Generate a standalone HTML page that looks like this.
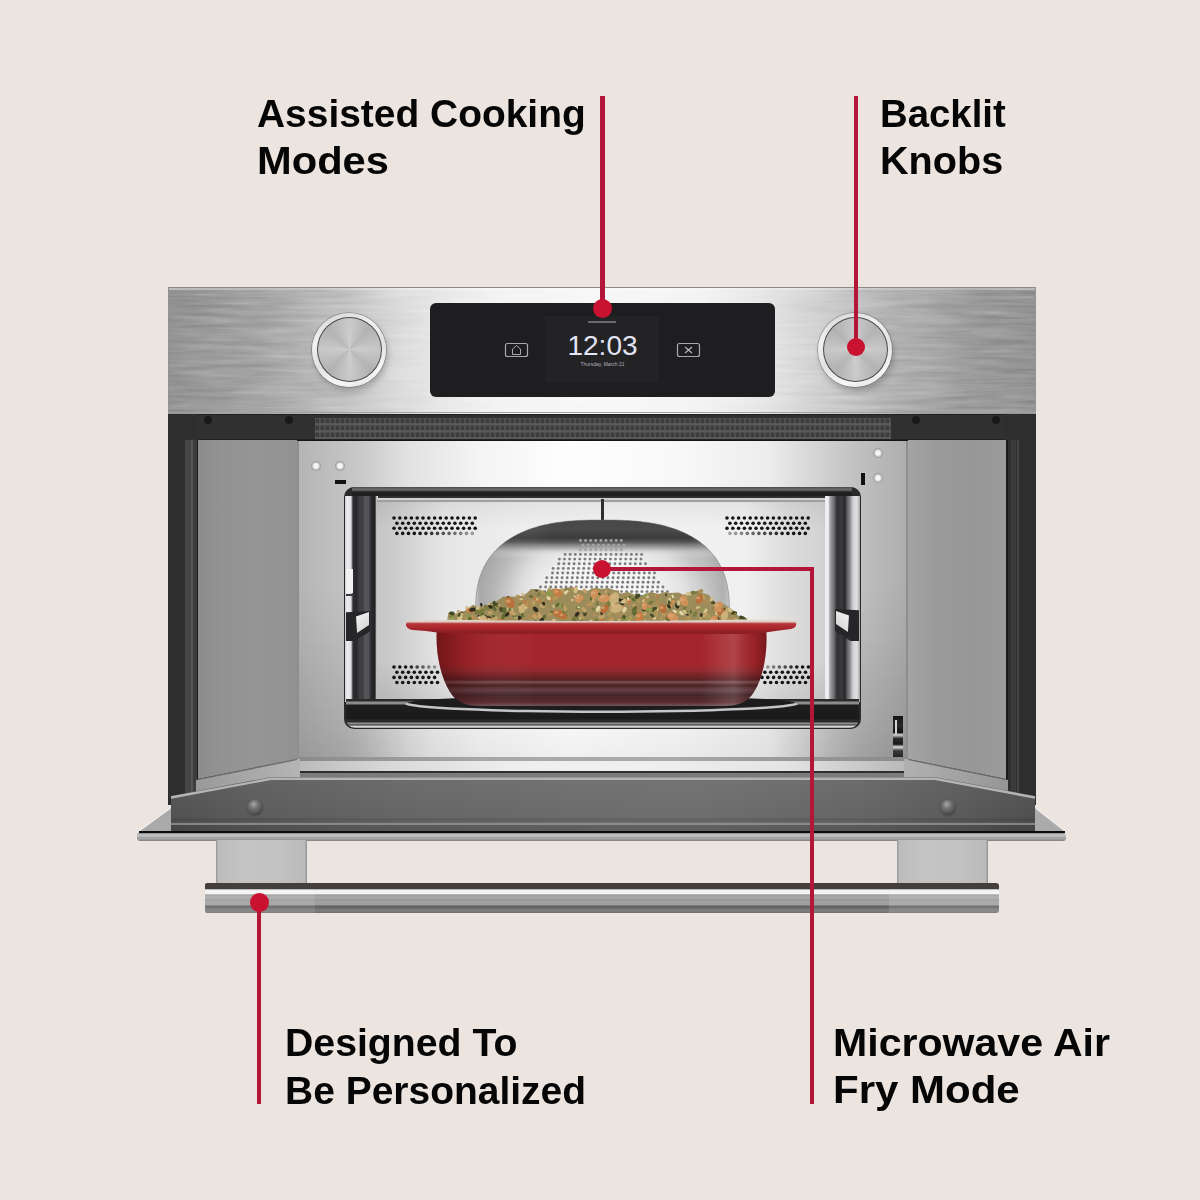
<!DOCTYPE html>
<html><head><meta charset="utf-8">
<style>
*{margin:0;padding:0;box-sizing:border-box}
html,body{width:1200px;height:1200px;overflow:hidden;background:#ece4df}
body{position:relative;font-family:"Liberation Sans",sans-serif}
.a{position:absolute}
.ln{position:absolute;font-weight:bold;color:#060606;font-size:38.5px;line-height:38.5px;white-space:nowrap;transform-origin:0 0}
.rl{position:absolute;background:#b4163a}
.rd{position:absolute;background:#c8122f;border-radius:50%}
</style></head><body>

<!-- ===== OVEN ===== -->
<div class="a" style="left:168px;top:413px;width:868px;height:392px;background:#2e2e2e"></div>
<div class="a" style="left:185px;top:440px;width:6px;height:360px;background:#464646"></div>
<div class="a" style="left:191px;top:440px;width:1.5px;height:360px;background:#555"></div>
<div class="a" style="left:192.5px;top:440px;width:4px;height:360px;background:#3c3c3c"></div>
<div class="a" style="left:1008px;top:440px;width:3px;height:360px;background:#303030"></div>
<div class="a" style="left:1011px;top:440px;width:5px;height:360px;background:#3c3c3c"></div>
<div class="a" style="left:1017px;top:440px;width:2px;height:360px;background:#444"></div>
<div class="a" style="left:196.5px;top:440px;width:2px;height:350px;background:#1c1c1c"></div>
<div class="a" style="left:1006px;top:440px;width:2px;height:350px;background:#1a1a1a"></div>
<div class="a" style="left:198px;top:413px;width:808px;height:28px;background:#303030"></div>
<svg class="a" style="left:0;top:0" width="1200" height="450">
<defs><pattern id="vs" x="315" y="418" width="5" height="7" patternUnits="userSpaceOnUse"><rect width="5" height="7" fill="#5a5a5a"/><rect x="0.5" y="0.5" width="3.8" height="4.6" fill="#3c3c3c"/></pattern></defs>
<rect x="315" y="418" width="576" height="21" fill="url(#vs)"/>
<rect x="198" y="413" width="808" height="1.5" fill="#111"/>
<rect x="198" y="439.5" width="808" height="1.5" fill="#151517"/>
</svg>
<div class="a" style="left:204px;top:416px;width:8px;height:8px;border-radius:50%;background:#18181a"></div>
<div class="a" style="left:285px;top:416px;width:8px;height:8px;border-radius:50%;background:#18181a"></div>
<div class="a" style="left:912px;top:416px;width:8px;height:8px;border-radius:50%;background:#18181a"></div>
<div class="a" style="left:992px;top:416px;width:8px;height:8px;border-radius:50%;background:#18181a"></div>
<div class="a" style="left:198px;top:440px;width:99px;height:350px;background:linear-gradient(90deg,#8c8c8c 0,#929292 25%,#959595 60%,#929292 100%);clip-path:polygon(0 0,100% 0,100% 319px,0 339px)"></div>
<div class="a" style="left:908px;top:440px;width:98px;height:350px;background:linear-gradient(90deg,#a4a4a4 0,#9a9a9a 30%,#979797 70%,#9c9c9c 100%);clip-path:polygon(0 0,100% 0,100% 339px,0 319px)"></div>
<div class="a" style="left:297px;top:441px;width:611px;height:320px;background:linear-gradient(90deg,#b4b4b4 0,#c8c8c8 10.3%,#e2e2e2 18.2%,#f4f4f4 30%,#fefefe 44.4%,#f8f8f8 62.7%,#ededed 77%,#c8c8c8 88.9%,#b8b8b8 95.4%,#adadad 100%)"></div>
<div class="a" style="left:297px;top:441px;width:611px;height:320px;background:linear-gradient(180deg,rgba(0,0,0,0) 0,rgba(0,0,0,0) 60%,rgba(0,0,0,.03) 90%,rgba(0,0,0,.06) 100%)"></div>
<div class="a" style="left:297px;top:441px;width:611px;height:320px;background:linear-gradient(180deg,rgba(0,0,0,0) 45%,rgba(0,0,0,.11) 100%);-webkit-mask-image:linear-gradient(90deg,#000 0,#000 8%,transparent 22%,transparent 78%,#000 92%,#000 100%)"></div>
<div class="a" style="left:297px;top:441px;width:2px;height:320px;background:#8e8e90"></div>
<div class="a" style="left:906px;top:441px;width:2px;height:320px;background:#8e8e90"></div>
<div class="a" style="left:311px;top:461px;width:10px;height:10px;border-radius:50%;background:radial-gradient(circle,#f6f6f6 0 30%,#d0d0d2 45%,#8a8a8c 75%,#9a9a9c)"></div>
<div class="a" style="left:335px;top:461px;width:10px;height:10px;border-radius:50%;background:radial-gradient(circle,#f6f6f6 0 30%,#d0d0d2 45%,#8a8a8c 75%,#9a9a9c)"></div>
<div class="a" style="left:873px;top:448px;width:10px;height:10px;border-radius:50%;background:radial-gradient(circle,#f6f6f6 0 30%,#d0d0d2 45%,#8a8a8c 75%,#9a9a9c)"></div>
<div class="a" style="left:873px;top:473px;width:10px;height:10px;border-radius:50%;background:radial-gradient(circle,#f6f6f6 0 30%,#d0d0d2 45%,#8a8a8c 75%,#9a9a9c)"></div>
<div class="a" style="left:335px;top:480px;width:11px;height:4px;background:#111"></div>
<div class="a" style="left:861px;top:473px;width:4px;height:12px;background:#111"></div>
<div class="a" style="left:893px;top:716px;width:10px;height:47px;background:linear-gradient(180deg,#141414 0,#2a2a2a 20%,#101010 35%,#d8d8d8 40%,#2a2a2a 48%,#1a1a1a 60%,#e0e0e0 66%,#3a3a3a 74%,#111 100%)"></div>
<div class="a" style="left:895px;top:720px;width:2px;height:14px;background:#d8d0d0"></div>
<div class="a" style="left:344px;top:487px;width:517px;height:242px;border-radius:10px;background:#2a2a2c"></div>
<div class="a" style="left:352px;top:487px;width:500px;height:11px;background:linear-gradient(180deg,#4a4a4a 0,#6a6a6a 2.5px,#4a4a4a 4px,#202020 5px,#202020 9px,#3a3a3a 10px,#2a2a2a 11px)"></div>
<div class="a" style="left:345px;top:496px;width:33px;height:206px;background:linear-gradient(90deg,#c8c8ca 0,#eeeef0 2px,#e0e0e2 6px,#2c2c2e 8px,#2a2a2c 12px,#3e3e40 14px,#404042 18px,#56565a 20px,#50505a 24px,#2a2a2c 26px,#222224 30px,#eeeef0 32px,#d6d6d8 33px)"></div>
<div class="a" style="left:825px;top:496px;width:35px;height:206px;background:linear-gradient(90deg,#e8e8ea 0,#f6f6f8 3px,#a4a4a6 5px,#6c6c6e 9px,#303032 12px,#3a3a3c 17px,#262628 20px,#5c5c5e 22px,#8c8c8e 25px,#d2d2d4 28px,#e0e0e2 32px,#a2a2a4 35px)"></div>
<div class="a" style="left:346px;top:611px;width:24px;height:30px;background:#262628;clip-path:polygon(0 4%,100% 0,100% 68%,35% 100%,0 100%)"></div>
<div class="a" style="left:356px;top:612px;width:13px;height:21px;background:linear-gradient(135deg,#f6f6f6,#cfcfcf);clip-path:polygon(0 22%,100% 0,100% 62%,8% 100%)"></div>
<div class="a" style="left:346px;top:569px;width:7px;height:24px;background:#f2f2f2"></div>
<div class="a" style="left:346px;top:594px;width:8px;height:2px;background:#3a3a3c"></div>
<div class="a" style="left:835px;top:609px;width:24px;height:32px;background:#262628;clip-path:polygon(0 0,100% 4%,100% 100%,65% 100%,0 68%)"></div>
<div class="a" style="left:836px;top:611px;width:13px;height:21px;background:linear-gradient(225deg,#f6f6f6,#cfcfcf);clip-path:polygon(0 0,100% 22%,92% 100%,0 62%)"></div>
<div class="a" style="left:377px;top:499px;width:448px;height:201px;background:linear-gradient(90deg,#c6c6c6 0,#cacaca 3%,#e6e6e6 15%,#eeeeee 30%,#f2f2f2 50%,#f0f0f0 82%,#dcdcdc 92%,#d2d2d2 100%)"></div>
<div class="a" style="left:377px;top:499px;width:448px;height:201px;background:linear-gradient(180deg,rgba(0,0,0,.18) 0,rgba(0,0,0,.05) 2%,rgba(0,0,0,0) 15%,rgba(0,0,0,0) 80%,rgba(0,0,0,.08) 100%)"></div>
<div class="a" style="left:377px;top:498px;width:448px;height:2px;background:#d0d0d0"></div>
<div class="a" style="left:377px;top:500px;width:448px;height:2px;background:#a0a0a0"></div>
<svg class="a" style="left:0;top:0" width="1200" height="1200"><circle cx="394.0" cy="518" r="1.8" fill="#141414"/><circle cx="399.8" cy="518" r="1.8" fill="#141414"/><circle cx="405.6" cy="518" r="1.8" fill="#141414"/><circle cx="411.4" cy="518" r="1.8" fill="#141414"/><circle cx="417.2" cy="518" r="1.8" fill="#141414"/><circle cx="423.0" cy="518" r="1.8" fill="#141414"/><circle cx="428.8" cy="518" r="1.8" fill="#141414"/><circle cx="434.6" cy="518" r="1.8" fill="#141414"/><circle cx="440.4" cy="518" r="1.8" fill="#141414"/><circle cx="446.2" cy="518" r="1.8" fill="#141414"/><circle cx="452.0" cy="518" r="1.8" fill="#141414"/><circle cx="457.8" cy="518" r="1.8" fill="#141414"/><circle cx="463.6" cy="518" r="1.8" fill="#141414"/><circle cx="469.4" cy="518" r="1.8" fill="#141414"/><circle cx="475.2" cy="518" r="1.8" fill="#141414"/><circle cx="396.9" cy="523.2" r="1.8" fill="#141414"/><circle cx="402.7" cy="523.2" r="1.8" fill="#141414"/><circle cx="408.5" cy="523.2" r="1.8" fill="#141414"/><circle cx="414.3" cy="523.2" r="1.8" fill="#141414"/><circle cx="420.1" cy="523.2" r="1.8" fill="#141414"/><circle cx="425.9" cy="523.2" r="1.8" fill="#141414"/><circle cx="431.7" cy="523.2" r="1.8" fill="#141414"/><circle cx="437.5" cy="523.2" r="1.8" fill="#141414"/><circle cx="443.3" cy="523.2" r="1.8" fill="#141414"/><circle cx="449.1" cy="523.2" r="1.8" fill="#141414"/><circle cx="454.9" cy="523.2" r="1.8" fill="#141414"/><circle cx="460.7" cy="523.2" r="1.8" fill="#141414"/><circle cx="466.5" cy="523.2" r="1.8" fill="#141414"/><circle cx="472.3" cy="523.2" r="1.8" fill="#141414"/><circle cx="394.0" cy="528.3" r="1.8" fill="#141414"/><circle cx="399.8" cy="528.3" r="1.8" fill="#141414"/><circle cx="405.6" cy="528.3" r="1.8" fill="#141414"/><circle cx="411.4" cy="528.3" r="1.8" fill="#141414"/><circle cx="417.2" cy="528.3" r="1.8" fill="#141414"/><circle cx="423.0" cy="528.3" r="1.8" fill="#141414"/><circle cx="428.8" cy="528.3" r="1.8" fill="#141414"/><circle cx="434.6" cy="528.3" r="1.8" fill="#141414"/><circle cx="440.4" cy="528.3" r="1.8" fill="#141414"/><circle cx="446.2" cy="528.3" r="1.8" fill="#141414"/><circle cx="452.0" cy="528.3" r="1.8" fill="#141414"/><circle cx="457.8" cy="528.3" r="1.8" fill="#141414"/><circle cx="463.6" cy="528.3" r="1.8" fill="#141414"/><circle cx="469.4" cy="528.3" r="1.8" fill="#141414"/><circle cx="475.2" cy="528.3" r="1.8" fill="#141414"/><circle cx="396.9" cy="533.4" r="1.8" fill="#141414"/><circle cx="402.7" cy="533.4" r="1.8" fill="#141414"/><circle cx="408.5" cy="533.4" r="1.8" fill="#141414"/><circle cx="414.3" cy="533.4" r="1.8" fill="#141414"/><circle cx="420.1" cy="533.4" r="1.8" fill="#161616"/><circle cx="425.9" cy="533.4" r="1.8" fill="#252525"/><circle cx="431.7" cy="533.4" r="1.8" fill="#333333"/><circle cx="437.5" cy="533.4" r="1.8" fill="#424242"/><circle cx="443.3" cy="533.4" r="1.8" fill="#515151"/><circle cx="449.1" cy="533.4" r="1.8" fill="#606060"/><circle cx="454.9" cy="533.4" r="1.8" fill="#6f6f6f"/><circle cx="460.7" cy="533.4" r="1.8" fill="#7d7d7d"/><circle cx="466.5" cy="533.4" r="1.8" fill="#8c8c8c"/><circle cx="472.3" cy="533.4" r="1.8" fill="#9b9b9b"/><circle cx="727.0" cy="518" r="1.8" fill="#141414"/><circle cx="732.8" cy="518" r="1.8" fill="#141414"/><circle cx="738.6" cy="518" r="1.8" fill="#141414"/><circle cx="744.4" cy="518" r="1.8" fill="#141414"/><circle cx="750.2" cy="518" r="1.8" fill="#141414"/><circle cx="756.0" cy="518" r="1.8" fill="#141414"/><circle cx="761.8" cy="518" r="1.8" fill="#141414"/><circle cx="767.6" cy="518" r="1.8" fill="#141414"/><circle cx="773.4" cy="518" r="1.8" fill="#141414"/><circle cx="779.2" cy="518" r="1.8" fill="#141414"/><circle cx="785.0" cy="518" r="1.8" fill="#141414"/><circle cx="790.8" cy="518" r="1.8" fill="#141414"/><circle cx="796.6" cy="518" r="1.8" fill="#141414"/><circle cx="802.4" cy="518" r="1.8" fill="#141414"/><circle cx="808.2" cy="518" r="1.8" fill="#141414"/><circle cx="729.9" cy="523.2" r="1.8" fill="#141414"/><circle cx="735.7" cy="523.2" r="1.8" fill="#141414"/><circle cx="741.5" cy="523.2" r="1.8" fill="#141414"/><circle cx="747.3" cy="523.2" r="1.8" fill="#141414"/><circle cx="753.1" cy="523.2" r="1.8" fill="#141414"/><circle cx="758.9" cy="523.2" r="1.8" fill="#141414"/><circle cx="764.7" cy="523.2" r="1.8" fill="#141414"/><circle cx="770.5" cy="523.2" r="1.8" fill="#141414"/><circle cx="776.3" cy="523.2" r="1.8" fill="#141414"/><circle cx="782.1" cy="523.2" r="1.8" fill="#141414"/><circle cx="787.9" cy="523.2" r="1.8" fill="#141414"/><circle cx="793.7" cy="523.2" r="1.8" fill="#141414"/><circle cx="799.5" cy="523.2" r="1.8" fill="#141414"/><circle cx="805.3" cy="523.2" r="1.8" fill="#141414"/><circle cx="727.0" cy="528.3" r="1.8" fill="#141414"/><circle cx="732.8" cy="528.3" r="1.8" fill="#141414"/><circle cx="738.6" cy="528.3" r="1.8" fill="#141414"/><circle cx="744.4" cy="528.3" r="1.8" fill="#141414"/><circle cx="750.2" cy="528.3" r="1.8" fill="#141414"/><circle cx="756.0" cy="528.3" r="1.8" fill="#141414"/><circle cx="761.8" cy="528.3" r="1.8" fill="#141414"/><circle cx="767.6" cy="528.3" r="1.8" fill="#141414"/><circle cx="773.4" cy="528.3" r="1.8" fill="#141414"/><circle cx="779.2" cy="528.3" r="1.8" fill="#141414"/><circle cx="785.0" cy="528.3" r="1.8" fill="#141414"/><circle cx="790.8" cy="528.3" r="1.8" fill="#141414"/><circle cx="796.6" cy="528.3" r="1.8" fill="#141414"/><circle cx="802.4" cy="528.3" r="1.8" fill="#141414"/><circle cx="808.2" cy="528.3" r="1.8" fill="#141414"/><circle cx="729.9" cy="533.4" r="1.8" fill="#a2a2a2"/><circle cx="735.7" cy="533.4" r="1.8" fill="#939393"/><circle cx="741.5" cy="533.4" r="1.8" fill="#858585"/><circle cx="747.3" cy="533.4" r="1.8" fill="#767676"/><circle cx="753.1" cy="533.4" r="1.8" fill="#676767"/><circle cx="758.9" cy="533.4" r="1.8" fill="#585858"/><circle cx="764.7" cy="533.4" r="1.8" fill="#494949"/><circle cx="770.5" cy="533.4" r="1.8" fill="#3b3b3b"/><circle cx="776.3" cy="533.4" r="1.8" fill="#2c2c2c"/><circle cx="782.1" cy="533.4" r="1.8" fill="#1d1d1d"/><circle cx="787.9" cy="533.4" r="1.8" fill="#141414"/><circle cx="793.7" cy="533.4" r="1.8" fill="#141414"/><circle cx="799.5" cy="533.4" r="1.8" fill="#141414"/><circle cx="805.3" cy="533.4" r="1.8" fill="#141414"/><circle cx="394.0" cy="667" r="1.8" fill="#141414"/><circle cx="399.8" cy="667" r="1.8" fill="#141414"/><circle cx="405.6" cy="667" r="1.8" fill="#141414"/><circle cx="411.4" cy="667" r="1.8" fill="#242424"/><circle cx="417.2" cy="667" r="1.8" fill="#3f3f3f"/><circle cx="423.0" cy="667" r="1.8" fill="#5a5a5a"/><circle cx="428.8" cy="667" r="1.8" fill="#757575"/><circle cx="434.6" cy="667" r="1.8" fill="#909090"/><circle cx="396.9" cy="672.2" r="1.8" fill="#141414"/><circle cx="402.7" cy="672.2" r="1.8" fill="#141414"/><circle cx="408.5" cy="672.2" r="1.8" fill="#141414"/><circle cx="414.3" cy="672.2" r="1.8" fill="#141414"/><circle cx="420.1" cy="672.2" r="1.8" fill="#141414"/><circle cx="425.9" cy="672.2" r="1.8" fill="#141414"/><circle cx="431.7" cy="672.2" r="1.8" fill="#141414"/><circle cx="437.5" cy="672.2" r="1.8" fill="#141414"/><circle cx="394.0" cy="677.4" r="1.8" fill="#141414"/><circle cx="399.8" cy="677.4" r="1.8" fill="#141414"/><circle cx="405.6" cy="677.4" r="1.8" fill="#141414"/><circle cx="411.4" cy="677.4" r="1.8" fill="#141414"/><circle cx="417.2" cy="677.4" r="1.8" fill="#141414"/><circle cx="423.0" cy="677.4" r="1.8" fill="#141414"/><circle cx="428.8" cy="677.4" r="1.8" fill="#141414"/><circle cx="434.6" cy="677.4" r="1.8" fill="#141414"/><circle cx="396.9" cy="682.5" r="1.8" fill="#141414"/><circle cx="402.7" cy="682.5" r="1.8" fill="#141414"/><circle cx="408.5" cy="682.5" r="1.8" fill="#141414"/><circle cx="414.3" cy="682.5" r="1.8" fill="#141414"/><circle cx="420.1" cy="682.5" r="1.8" fill="#141414"/><circle cx="425.9" cy="682.5" r="1.8" fill="#141414"/><circle cx="431.7" cy="682.5" r="1.8" fill="#141414"/><circle cx="437.5" cy="682.5" r="1.8" fill="#141414"/><circle cx="762.0" cy="667" r="1.8" fill="#aaaaaa"/><circle cx="767.8" cy="667" r="1.8" fill="#909090"/><circle cx="773.6" cy="667" r="1.8" fill="#777777"/><circle cx="779.4" cy="667" r="1.8" fill="#5d5d5d"/><circle cx="785.2" cy="667" r="1.8" fill="#444444"/><circle cx="791.0" cy="667" r="1.8" fill="#2b2b2b"/><circle cx="796.8" cy="667" r="1.8" fill="#141414"/><circle cx="802.6" cy="667" r="1.8" fill="#141414"/><circle cx="808.4" cy="667" r="1.8" fill="#141414"/><circle cx="764.9" cy="672.2" r="1.8" fill="#141414"/><circle cx="770.7" cy="672.2" r="1.8" fill="#141414"/><circle cx="776.5" cy="672.2" r="1.8" fill="#141414"/><circle cx="782.3" cy="672.2" r="1.8" fill="#141414"/><circle cx="788.1" cy="672.2" r="1.8" fill="#141414"/><circle cx="793.9" cy="672.2" r="1.8" fill="#141414"/><circle cx="799.7" cy="672.2" r="1.8" fill="#141414"/><circle cx="805.5" cy="672.2" r="1.8" fill="#141414"/><circle cx="762.0" cy="677.4" r="1.8" fill="#141414"/><circle cx="767.8" cy="677.4" r="1.8" fill="#141414"/><circle cx="773.6" cy="677.4" r="1.8" fill="#141414"/><circle cx="779.4" cy="677.4" r="1.8" fill="#141414"/><circle cx="785.2" cy="677.4" r="1.8" fill="#141414"/><circle cx="791.0" cy="677.4" r="1.8" fill="#141414"/><circle cx="796.8" cy="677.4" r="1.8" fill="#141414"/><circle cx="802.6" cy="677.4" r="1.8" fill="#141414"/><circle cx="808.4" cy="677.4" r="1.8" fill="#141414"/><circle cx="764.9" cy="682.5" r="1.8" fill="#141414"/><circle cx="770.7" cy="682.5" r="1.8" fill="#141414"/><circle cx="776.5" cy="682.5" r="1.8" fill="#141414"/><circle cx="782.3" cy="682.5" r="1.8" fill="#141414"/><circle cx="788.1" cy="682.5" r="1.8" fill="#141414"/><circle cx="793.9" cy="682.5" r="1.8" fill="#141414"/><circle cx="799.7" cy="682.5" r="1.8" fill="#141414"/><circle cx="805.5" cy="682.5" r="1.8" fill="#141414"/></svg>
<div class="a" style="left:346px;top:699px;width:513px;height:29px;border-radius:0 0 9px 9px;background:linear-gradient(180deg,#2a2a2a 0,#2a2a2a 2px,#909090 3px,#8a8a8a 5px,#1e1e1e 6px,#1a1a1a 20px,#2a2a2a 21px,#2a2a2a 23px,#909090 24px,#909090 25px,#2a2a2a 26px,#d8d8d8 27px,#d0d0d0 28px,#8a8a8a 29px)"></div>
<div class="a" style="left:601px;top:499px;width:3px;height:32px;background:#2e2e30"></div>
<svg class="a" style="left:0;top:0" width="1200" height="1200">
<defs>
<radialGradient id="domeR" cx="602.5" cy="605" r="127" gradientUnits="userSpaceOnUse" gradientTransform="translate(602.5 605) scale(1 .78) translate(-602.5 -605)">
<stop offset="0" stop-color="#f8f8f8"/><stop offset=".45" stop-color="#f4f4f4"/><stop offset=".68" stop-color="#e0e0e0"/><stop offset=".85" stop-color="#c2c2c2"/><stop offset="1" stop-color="#b0b0b0"/></radialGradient>
<linearGradient id="domeT" x1="0" y1="520" x2="0" y2="560" gradientUnits="userSpaceOnUse">
<stop offset="0" stop-color="#484848" stop-opacity="1"/><stop offset=".25" stop-color="#4a4a4a" stop-opacity="1"/><stop offset=".45" stop-color="#3c3c3c" stop-opacity="1"/><stop offset=".55" stop-color="#505050" stop-opacity=".95"/><stop offset=".7" stop-color="#909090" stop-opacity=".7"/><stop offset=".82" stop-color="#d0d0d0" stop-opacity=".3"/><stop offset=".95" stop-color="#fff" stop-opacity="0"/></linearGradient>
<linearGradient id="domeL" x1="475" y1="0" x2="730" y2="0" gradientUnits="userSpaceOnUse">
<stop offset="0" stop-color="#ffffff" stop-opacity=".5"/><stop offset=".02" stop-color="#888" stop-opacity=".25"/><stop offset=".12" stop-color="#888" stop-opacity=".12"/><stop offset=".3" stop-color="#fff" stop-opacity="0"/><stop offset=".85" stop-color="#fff" stop-opacity="0"/><stop offset=".97" stop-color="#999" stop-opacity=".15"/><stop offset="1" stop-color="#fff" stop-opacity=".4"/></linearGradient>
<clipPath id="domeClip"><rect x="470" y="515" width="265" height="100"/></clipPath>
</defs>
<g clip-path="url(#domeClip)">
<path d="M729.5,614.0 L729.5,609.8 L729.4,606.9 L729.4,604.3 L729.3,601.9 L729.1,599.6 L729.0,597.5 L728.8,595.4 L728.5,593.4 L728.3,591.4 L728.0,589.6 L727.7,587.7 L727.4,585.9 L727.0,584.2 L726.6,582.4 L726.2,580.8 L725.7,579.1 L725.2,577.5 L724.7,575.9 L724.1,574.4 L723.6,572.8 L723.0,571.3 L722.3,569.8 L721.7,568.4 L721.0,566.9 L720.2,565.5 L719.5,564.2 L718.7,562.8 L717.9,561.5 L717.1,560.1 L716.2,558.8 L715.3,557.6 L714.4,556.3 L713.4,555.1 L712.4,553.9 L711.4,552.7 L710.4,551.5 L709.3,550.4 L708.2,549.3 L707.1,548.2 L706.0,547.1 L704.8,546.0 L703.6,545.0 L702.3,544.0 L701.1,543.0 L699.8,542.0 L698.5,541.0 L697.1,540.1 L695.7,539.2 L694.3,538.3 L692.9,537.4 L691.4,536.6 L689.9,535.7 L688.4,534.9 L686.9,534.1 L685.3,533.4 L683.7,532.6 L682.1,531.9 L680.4,531.2 L678.7,530.5 L677.0,529.8 L675.3,529.2 L673.5,528.6 L671.7,528.0 L669.8,527.4 L668.0,526.9 L666.1,526.3 L664.1,525.8 L662.2,525.3 L660.2,524.8 L658.1,524.4 L656.1,524.0 L654.0,523.6 L651.8,523.2 L649.6,522.8 L647.4,522.5 L645.1,522.2 L642.8,521.9 L640.4,521.6 L638.0,521.3 L635.5,521.1 L633.0,520.9 L630.4,520.7 L627.7,520.5 L624.9,520.4 L621.9,520.3 L618.9,520.2 L615.6,520.1 L612.1,520.0 L608.1,520.0 L602.5,520.0 L596.9,520.0 L592.9,520.0 L589.4,520.1 L586.1,520.2 L583.1,520.3 L580.1,520.4 L577.3,520.5 L574.6,520.7 L572.0,520.9 L569.5,521.1 L567.0,521.3 L564.6,521.6 L562.2,521.9 L559.9,522.2 L557.6,522.5 L555.4,522.8 L553.2,523.2 L551.0,523.6 L548.9,524.0 L546.9,524.4 L544.8,524.8 L542.8,525.3 L540.9,525.8 L538.9,526.3 L537.0,526.9 L535.2,527.4 L533.3,528.0 L531.5,528.6 L529.7,529.2 L528.0,529.8 L526.3,530.5 L524.6,531.2 L522.9,531.9 L521.3,532.6 L519.7,533.4 L518.1,534.1 L516.6,534.9 L515.1,535.7 L513.6,536.6 L512.1,537.4 L510.7,538.3 L509.3,539.2 L507.9,540.1 L506.5,541.0 L505.2,542.0 L503.9,543.0 L502.7,544.0 L501.4,545.0 L500.2,546.0 L499.0,547.1 L497.9,548.2 L496.8,549.3 L495.7,550.4 L494.6,551.5 L493.6,552.7 L492.6,553.9 L491.6,555.1 L490.6,556.3 L489.7,557.6 L488.8,558.8 L487.9,560.1 L487.1,561.5 L486.3,562.8 L485.5,564.2 L484.8,565.5 L484.0,566.9 L483.3,568.4 L482.7,569.8 L482.0,571.3 L481.4,572.8 L480.9,574.4 L480.3,575.9 L479.8,577.5 L479.3,579.1 L478.8,580.8 L478.4,582.4 L478.0,584.2 L477.6,585.9 L477.3,587.7 L477.0,589.6 L476.7,591.4 L476.5,593.4 L476.2,595.4 L476.0,597.5 L475.9,599.6 L475.7,601.9 L475.6,604.3 L475.6,606.9 L475.5,609.8 L475.5,614.0 Z" fill="url(#domeR)"/>
<path d="M729.5,614.0 L729.5,609.8 L729.4,606.9 L729.4,604.3 L729.3,601.9 L729.1,599.6 L729.0,597.5 L728.8,595.4 L728.5,593.4 L728.3,591.4 L728.0,589.6 L727.7,587.7 L727.4,585.9 L727.0,584.2 L726.6,582.4 L726.2,580.8 L725.7,579.1 L725.2,577.5 L724.7,575.9 L724.1,574.4 L723.6,572.8 L723.0,571.3 L722.3,569.8 L721.7,568.4 L721.0,566.9 L720.2,565.5 L719.5,564.2 L718.7,562.8 L717.9,561.5 L717.1,560.1 L716.2,558.8 L715.3,557.6 L714.4,556.3 L713.4,555.1 L712.4,553.9 L711.4,552.7 L710.4,551.5 L709.3,550.4 L708.2,549.3 L707.1,548.2 L706.0,547.1 L704.8,546.0 L703.6,545.0 L702.3,544.0 L701.1,543.0 L699.8,542.0 L698.5,541.0 L697.1,540.1 L695.7,539.2 L694.3,538.3 L692.9,537.4 L691.4,536.6 L689.9,535.7 L688.4,534.9 L686.9,534.1 L685.3,533.4 L683.7,532.6 L682.1,531.9 L680.4,531.2 L678.7,530.5 L677.0,529.8 L675.3,529.2 L673.5,528.6 L671.7,528.0 L669.8,527.4 L668.0,526.9 L666.1,526.3 L664.1,525.8 L662.2,525.3 L660.2,524.8 L658.1,524.4 L656.1,524.0 L654.0,523.6 L651.8,523.2 L649.6,522.8 L647.4,522.5 L645.1,522.2 L642.8,521.9 L640.4,521.6 L638.0,521.3 L635.5,521.1 L633.0,520.9 L630.4,520.7 L627.7,520.5 L624.9,520.4 L621.9,520.3 L618.9,520.2 L615.6,520.1 L612.1,520.0 L608.1,520.0 L602.5,520.0 L596.9,520.0 L592.9,520.0 L589.4,520.1 L586.1,520.2 L583.1,520.3 L580.1,520.4 L577.3,520.5 L574.6,520.7 L572.0,520.9 L569.5,521.1 L567.0,521.3 L564.6,521.6 L562.2,521.9 L559.9,522.2 L557.6,522.5 L555.4,522.8 L553.2,523.2 L551.0,523.6 L548.9,524.0 L546.9,524.4 L544.8,524.8 L542.8,525.3 L540.9,525.8 L538.9,526.3 L537.0,526.9 L535.2,527.4 L533.3,528.0 L531.5,528.6 L529.7,529.2 L528.0,529.8 L526.3,530.5 L524.6,531.2 L522.9,531.9 L521.3,532.6 L519.7,533.4 L518.1,534.1 L516.6,534.9 L515.1,535.7 L513.6,536.6 L512.1,537.4 L510.7,538.3 L509.3,539.2 L507.9,540.1 L506.5,541.0 L505.2,542.0 L503.9,543.0 L502.7,544.0 L501.4,545.0 L500.2,546.0 L499.0,547.1 L497.9,548.2 L496.8,549.3 L495.7,550.4 L494.6,551.5 L493.6,552.7 L492.6,553.9 L491.6,555.1 L490.6,556.3 L489.7,557.6 L488.8,558.8 L487.9,560.1 L487.1,561.5 L486.3,562.8 L485.5,564.2 L484.8,565.5 L484.0,566.9 L483.3,568.4 L482.7,569.8 L482.0,571.3 L481.4,572.8 L480.9,574.4 L480.3,575.9 L479.8,577.5 L479.3,579.1 L478.8,580.8 L478.4,582.4 L478.0,584.2 L477.6,585.9 L477.3,587.7 L477.0,589.6 L476.7,591.4 L476.5,593.4 L476.2,595.4 L476.0,597.5 L475.9,599.6 L475.7,601.9 L475.6,604.3 L475.6,606.9 L475.5,609.8 L475.5,614.0 Z" fill="url(#domeT)"/>
<path d="M729.5,614.0 L729.5,609.8 L729.4,606.9 L729.4,604.3 L729.3,601.9 L729.1,599.6 L729.0,597.5 L728.8,595.4 L728.5,593.4 L728.3,591.4 L728.0,589.6 L727.7,587.7 L727.4,585.9 L727.0,584.2 L726.6,582.4 L726.2,580.8 L725.7,579.1 L725.2,577.5 L724.7,575.9 L724.1,574.4 L723.6,572.8 L723.0,571.3 L722.3,569.8 L721.7,568.4 L721.0,566.9 L720.2,565.5 L719.5,564.2 L718.7,562.8 L717.9,561.5 L717.1,560.1 L716.2,558.8 L715.3,557.6 L714.4,556.3 L713.4,555.1 L712.4,553.9 L711.4,552.7 L710.4,551.5 L709.3,550.4 L708.2,549.3 L707.1,548.2 L706.0,547.1 L704.8,546.0 L703.6,545.0 L702.3,544.0 L701.1,543.0 L699.8,542.0 L698.5,541.0 L697.1,540.1 L695.7,539.2 L694.3,538.3 L692.9,537.4 L691.4,536.6 L689.9,535.7 L688.4,534.9 L686.9,534.1 L685.3,533.4 L683.7,532.6 L682.1,531.9 L680.4,531.2 L678.7,530.5 L677.0,529.8 L675.3,529.2 L673.5,528.6 L671.7,528.0 L669.8,527.4 L668.0,526.9 L666.1,526.3 L664.1,525.8 L662.2,525.3 L660.2,524.8 L658.1,524.4 L656.1,524.0 L654.0,523.6 L651.8,523.2 L649.6,522.8 L647.4,522.5 L645.1,522.2 L642.8,521.9 L640.4,521.6 L638.0,521.3 L635.5,521.1 L633.0,520.9 L630.4,520.7 L627.7,520.5 L624.9,520.4 L621.9,520.3 L618.9,520.2 L615.6,520.1 L612.1,520.0 L608.1,520.0 L602.5,520.0 L596.9,520.0 L592.9,520.0 L589.4,520.1 L586.1,520.2 L583.1,520.3 L580.1,520.4 L577.3,520.5 L574.6,520.7 L572.0,520.9 L569.5,521.1 L567.0,521.3 L564.6,521.6 L562.2,521.9 L559.9,522.2 L557.6,522.5 L555.4,522.8 L553.2,523.2 L551.0,523.6 L548.9,524.0 L546.9,524.4 L544.8,524.8 L542.8,525.3 L540.9,525.8 L538.9,526.3 L537.0,526.9 L535.2,527.4 L533.3,528.0 L531.5,528.6 L529.7,529.2 L528.0,529.8 L526.3,530.5 L524.6,531.2 L522.9,531.9 L521.3,532.6 L519.7,533.4 L518.1,534.1 L516.6,534.9 L515.1,535.7 L513.6,536.6 L512.1,537.4 L510.7,538.3 L509.3,539.2 L507.9,540.1 L506.5,541.0 L505.2,542.0 L503.9,543.0 L502.7,544.0 L501.4,545.0 L500.2,546.0 L499.0,547.1 L497.9,548.2 L496.8,549.3 L495.7,550.4 L494.6,551.5 L493.6,552.7 L492.6,553.9 L491.6,555.1 L490.6,556.3 L489.7,557.6 L488.8,558.8 L487.9,560.1 L487.1,561.5 L486.3,562.8 L485.5,564.2 L484.8,565.5 L484.0,566.9 L483.3,568.4 L482.7,569.8 L482.0,571.3 L481.4,572.8 L480.9,574.4 L480.3,575.9 L479.8,577.5 L479.3,579.1 L478.8,580.8 L478.4,582.4 L478.0,584.2 L477.6,585.9 L477.3,587.7 L477.0,589.6 L476.7,591.4 L476.5,593.4 L476.2,595.4 L476.0,597.5 L475.9,599.6 L475.7,601.9 L475.6,604.3 L475.6,606.9 L475.5,609.8 L475.5,614.0 Z" fill="url(#domeL)"/>
<path d="M729.5,614.0 L729.5,609.8 L729.4,606.9 L729.4,604.3 L729.3,601.9 L729.1,599.6 L729.0,597.5 L728.8,595.4 L728.5,593.4 L728.3,591.4 L728.0,589.6 L727.7,587.7 L727.4,585.9 L727.0,584.2 L726.6,582.4 L726.2,580.8 L725.7,579.1 L725.2,577.5 L724.7,575.9 L724.1,574.4 L723.6,572.8 L723.0,571.3 L722.3,569.8 L721.7,568.4 L721.0,566.9 L720.2,565.5 L719.5,564.2 L718.7,562.8 L717.9,561.5 L717.1,560.1 L716.2,558.8 L715.3,557.6 L714.4,556.3 L713.4,555.1 L712.4,553.9 L711.4,552.7 L710.4,551.5 L709.3,550.4 L708.2,549.3 L707.1,548.2 L706.0,547.1 L704.8,546.0 L703.6,545.0 L702.3,544.0 L701.1,543.0 L699.8,542.0 L698.5,541.0 L697.1,540.1 L695.7,539.2 L694.3,538.3 L692.9,537.4 L691.4,536.6 L689.9,535.7 L688.4,534.9 L686.9,534.1 L685.3,533.4 L683.7,532.6 L682.1,531.9 L680.4,531.2 L678.7,530.5 L677.0,529.8 L675.3,529.2 L673.5,528.6 L671.7,528.0 L669.8,527.4 L668.0,526.9 L666.1,526.3 L664.1,525.8 L662.2,525.3 L660.2,524.8 L658.1,524.4 L656.1,524.0 L654.0,523.6 L651.8,523.2 L649.6,522.8 L647.4,522.5 L645.1,522.2 L642.8,521.9 L640.4,521.6 L638.0,521.3 L635.5,521.1 L633.0,520.9 L630.4,520.7 L627.7,520.5 L624.9,520.4 L621.9,520.3 L618.9,520.2 L615.6,520.1 L612.1,520.0 L608.1,520.0 L602.5,520.0 L596.9,520.0 L592.9,520.0 L589.4,520.1 L586.1,520.2 L583.1,520.3 L580.1,520.4 L577.3,520.5 L574.6,520.7 L572.0,520.9 L569.5,521.1 L567.0,521.3 L564.6,521.6 L562.2,521.9 L559.9,522.2 L557.6,522.5 L555.4,522.8 L553.2,523.2 L551.0,523.6 L548.9,524.0 L546.9,524.4 L544.8,524.8 L542.8,525.3 L540.9,525.8 L538.9,526.3 L537.0,526.9 L535.2,527.4 L533.3,528.0 L531.5,528.6 L529.7,529.2 L528.0,529.8 L526.3,530.5 L524.6,531.2 L522.9,531.9 L521.3,532.6 L519.7,533.4 L518.1,534.1 L516.6,534.9 L515.1,535.7 L513.6,536.6 L512.1,537.4 L510.7,538.3 L509.3,539.2 L507.9,540.1 L506.5,541.0 L505.2,542.0 L503.9,543.0 L502.7,544.0 L501.4,545.0 L500.2,546.0 L499.0,547.1 L497.9,548.2 L496.8,549.3 L495.7,550.4 L494.6,551.5 L493.6,552.7 L492.6,553.9 L491.6,555.1 L490.6,556.3 L489.7,557.6 L488.8,558.8 L487.9,560.1 L487.1,561.5 L486.3,562.8 L485.5,564.2 L484.8,565.5 L484.0,566.9 L483.3,568.4 L482.7,569.8 L482.0,571.3 L481.4,572.8 L480.9,574.4 L480.3,575.9 L479.8,577.5 L479.3,579.1 L478.8,580.8 L478.4,582.4 L478.0,584.2 L477.6,585.9 L477.3,587.7 L477.0,589.6 L476.7,591.4 L476.5,593.4 L476.2,595.4 L476.0,597.5 L475.9,599.6 L475.7,601.9 L475.6,604.3 L475.6,606.9 L475.5,609.8 L475.5,614.0 Z" fill="none" stroke="#6a6a6c" stroke-width=".8" stroke-opacity=".6"/>
</g>

<circle cx="580.5" cy="540.5" r="1.45" fill="#a4a4a6"/><circle cx="585.6" cy="540.5" r="1.45" fill="#a4a4a6"/><circle cx="590.7" cy="540.5" r="1.45" fill="#a4a4a6"/><circle cx="595.8" cy="540.5" r="1.45" fill="#a4a4a6"/><circle cx="600.9" cy="540.5" r="1.45" fill="#a4a4a6"/><circle cx="606.0" cy="540.5" r="1.45" fill="#a4a4a6"/><circle cx="611.1" cy="540.5" r="1.45" fill="#a4a4a6"/><circle cx="616.2" cy="540.5" r="1.45" fill="#a4a4a6"/><circle cx="621.3" cy="540.5" r="1.45" fill="#a4a4a6"/><circle cx="583.0" cy="545.1" r="1.45" fill="#a4a4a6"/><circle cx="588.1" cy="545.1" r="1.45" fill="#a4a4a6"/><circle cx="593.2" cy="545.1" r="1.45" fill="#a4a4a6"/><circle cx="598.4" cy="545.1" r="1.45" fill="#a4a4a6"/><circle cx="603.5" cy="545.1" r="1.45" fill="#a4a4a6"/><circle cx="608.6" cy="545.1" r="1.45" fill="#a4a4a6"/><circle cx="613.7" cy="545.1" r="1.45" fill="#a4a4a6"/><circle cx="618.8" cy="545.1" r="1.45" fill="#a4a4a6"/><circle cx="623.9" cy="545.1" r="1.45" fill="#a4a4a6"/><circle cx="580.5" cy="549.8" r="1.45" fill="#a4a4a6"/><circle cx="585.6" cy="549.8" r="1.45" fill="#a4a4a6"/><circle cx="590.7" cy="549.8" r="1.45" fill="#a4a4a6"/><circle cx="595.8" cy="549.8" r="1.45" fill="#a4a4a6"/><circle cx="600.9" cy="549.8" r="1.45" fill="#a4a4a6"/><circle cx="606.0" cy="549.8" r="1.45" fill="#a4a4a6"/><circle cx="611.1" cy="549.8" r="1.45" fill="#a4a4a6"/><circle cx="616.2" cy="549.8" r="1.45" fill="#a4a4a6"/><circle cx="621.3" cy="549.8" r="1.45" fill="#a4a4a6"/><circle cx="565.1" cy="554.4" r="1.45" fill="#7c7c7e"/><circle cx="570.2" cy="554.4" r="1.45" fill="#7c7c7e"/><circle cx="575.3" cy="554.4" r="1.45" fill="#7c7c7e"/><circle cx="580.4" cy="554.4" r="1.45" fill="#7c7c7e"/><circle cx="585.5" cy="554.4" r="1.45" fill="#7c7c7e"/><circle cx="590.6" cy="554.4" r="1.45" fill="#7c7c7e"/><circle cx="595.7" cy="554.4" r="1.45" fill="#7c7c7e"/><circle cx="600.8" cy="554.4" r="1.45" fill="#7c7c7e"/><circle cx="605.9" cy="554.4" r="1.45" fill="#7c7c7e"/><circle cx="611.0" cy="554.4" r="1.45" fill="#7c7c7e"/><circle cx="616.1" cy="554.4" r="1.45" fill="#7c7c7e"/><circle cx="621.2" cy="554.4" r="1.45" fill="#7c7c7e"/><circle cx="626.3" cy="554.4" r="1.45" fill="#7c7c7e"/><circle cx="631.4" cy="554.4" r="1.45" fill="#7c7c7e"/><circle cx="636.5" cy="554.4" r="1.45" fill="#7c7c7e"/><circle cx="641.6" cy="554.4" r="1.45" fill="#7c7c7e"/><circle cx="559.4" cy="559.1" r="1.45" fill="#7c7c7e"/><circle cx="564.5" cy="559.1" r="1.45" fill="#7c7c7e"/><circle cx="569.6" cy="559.1" r="1.45" fill="#7c7c7e"/><circle cx="574.7" cy="559.1" r="1.45" fill="#7c7c7e"/><circle cx="579.8" cy="559.1" r="1.45" fill="#7c7c7e"/><circle cx="584.9" cy="559.1" r="1.45" fill="#7c7c7e"/><circle cx="590.0" cy="559.1" r="1.45" fill="#7c7c7e"/><circle cx="595.1" cy="559.1" r="1.45" fill="#7c7c7e"/><circle cx="600.2" cy="559.1" r="1.45" fill="#7c7c7e"/><circle cx="605.3" cy="559.1" r="1.45" fill="#7c7c7e"/><circle cx="610.4" cy="559.1" r="1.45" fill="#7c7c7e"/><circle cx="615.5" cy="559.1" r="1.45" fill="#7c7c7e"/><circle cx="620.6" cy="559.1" r="1.45" fill="#7c7c7e"/><circle cx="625.7" cy="559.1" r="1.45" fill="#7c7c7e"/><circle cx="630.8" cy="559.1" r="1.45" fill="#7c7c7e"/><circle cx="635.9" cy="559.1" r="1.45" fill="#7c7c7e"/><circle cx="641.0" cy="559.1" r="1.45" fill="#7c7c7e"/><circle cx="558.8" cy="563.7" r="1.45" fill="#7c7c7e"/><circle cx="563.9" cy="563.7" r="1.45" fill="#7c7c7e"/><circle cx="569.0" cy="563.7" r="1.45" fill="#7c7c7e"/><circle cx="574.1" cy="563.7" r="1.45" fill="#7c7c7e"/><circle cx="579.2" cy="563.7" r="1.45" fill="#7c7c7e"/><circle cx="584.3" cy="563.7" r="1.45" fill="#7c7c7e"/><circle cx="589.4" cy="563.7" r="1.45" fill="#7c7c7e"/><circle cx="594.5" cy="563.7" r="1.45" fill="#7c7c7e"/><circle cx="599.6" cy="563.7" r="1.45" fill="#7c7c7e"/><circle cx="604.7" cy="563.7" r="1.45" fill="#7c7c7e"/><circle cx="609.8" cy="563.7" r="1.45" fill="#7c7c7e"/><circle cx="614.9" cy="563.7" r="1.45" fill="#7c7c7e"/><circle cx="620.0" cy="563.7" r="1.45" fill="#7c7c7e"/><circle cx="625.1" cy="563.7" r="1.45" fill="#7c7c7e"/><circle cx="630.2" cy="563.7" r="1.45" fill="#7c7c7e"/><circle cx="635.3" cy="563.7" r="1.45" fill="#7c7c7e"/><circle cx="640.4" cy="563.7" r="1.45" fill="#7c7c7e"/><circle cx="645.5" cy="563.7" r="1.45" fill="#7c7c7e"/><circle cx="553.1" cy="568.4" r="1.45" fill="#7c7c7e"/><circle cx="558.2" cy="568.4" r="1.45" fill="#7c7c7e"/><circle cx="563.3" cy="568.4" r="1.45" fill="#7c7c7e"/><circle cx="568.4" cy="568.4" r="1.45" fill="#7c7c7e"/><circle cx="573.5" cy="568.4" r="1.45" fill="#7c7c7e"/><circle cx="578.6" cy="568.4" r="1.45" fill="#7c7c7e"/><circle cx="583.7" cy="568.4" r="1.45" fill="#7c7c7e"/><circle cx="588.8" cy="568.4" r="1.45" fill="#7c7c7e"/><circle cx="593.9" cy="568.4" r="1.45" fill="#7c7c7e"/><circle cx="599.0" cy="568.4" r="1.45" fill="#7c7c7e"/><circle cx="604.1" cy="568.4" r="1.45" fill="#7c7c7e"/><circle cx="609.2" cy="568.4" r="1.45" fill="#7c7c7e"/><circle cx="614.3" cy="568.4" r="1.45" fill="#7c7c7e"/><circle cx="619.4" cy="568.4" r="1.45" fill="#7c7c7e"/><circle cx="624.5" cy="568.4" r="1.45" fill="#7c7c7e"/><circle cx="629.6" cy="568.4" r="1.45" fill="#7c7c7e"/><circle cx="634.7" cy="568.4" r="1.45" fill="#7c7c7e"/><circle cx="639.8" cy="568.4" r="1.45" fill="#7c7c7e"/><circle cx="644.9" cy="568.4" r="1.45" fill="#7c7c7e"/><circle cx="650.0" cy="568.4" r="1.45" fill="#7c7c7e"/><circle cx="552.5" cy="573.0" r="1.45" fill="#7c7c7e"/><circle cx="557.6" cy="573.0" r="1.45" fill="#7c7c7e"/><circle cx="562.7" cy="573.0" r="1.45" fill="#7c7c7e"/><circle cx="567.8" cy="573.0" r="1.45" fill="#7c7c7e"/><circle cx="572.9" cy="573.0" r="1.45" fill="#7c7c7e"/><circle cx="578.0" cy="573.0" r="1.45" fill="#7c7c7e"/><circle cx="583.1" cy="573.0" r="1.45" fill="#7c7c7e"/><circle cx="588.2" cy="573.0" r="1.45" fill="#7c7c7e"/><circle cx="593.3" cy="573.0" r="1.45" fill="#7c7c7e"/><circle cx="598.4" cy="573.0" r="1.45" fill="#7c7c7e"/><circle cx="603.5" cy="573.0" r="1.45" fill="#7c7c7e"/><circle cx="608.6" cy="573.0" r="1.45" fill="#7c7c7e"/><circle cx="613.7" cy="573.0" r="1.45" fill="#7c7c7e"/><circle cx="618.8" cy="573.0" r="1.45" fill="#7c7c7e"/><circle cx="623.9" cy="573.0" r="1.45" fill="#7c7c7e"/><circle cx="629.0" cy="573.0" r="1.45" fill="#7c7c7e"/><circle cx="634.1" cy="573.0" r="1.45" fill="#7c7c7e"/><circle cx="639.2" cy="573.0" r="1.45" fill="#7c7c7e"/><circle cx="644.3" cy="573.0" r="1.45" fill="#7c7c7e"/><circle cx="649.4" cy="573.0" r="1.45" fill="#7c7c7e"/><circle cx="654.5" cy="573.0" r="1.45" fill="#7c7c7e"/><circle cx="546.8" cy="577.7" r="1.45" fill="#7c7c7e"/><circle cx="551.9" cy="577.7" r="1.45" fill="#7c7c7e"/><circle cx="557.0" cy="577.7" r="1.45" fill="#7c7c7e"/><circle cx="562.1" cy="577.7" r="1.45" fill="#7c7c7e"/><circle cx="567.2" cy="577.7" r="1.45" fill="#7c7c7e"/><circle cx="572.3" cy="577.7" r="1.45" fill="#7c7c7e"/><circle cx="577.4" cy="577.7" r="1.45" fill="#7c7c7e"/><circle cx="582.5" cy="577.7" r="1.45" fill="#7c7c7e"/><circle cx="587.6" cy="577.7" r="1.45" fill="#7c7c7e"/><circle cx="592.7" cy="577.7" r="1.45" fill="#7c7c7e"/><circle cx="597.8" cy="577.7" r="1.45" fill="#7c7c7e"/><circle cx="602.9" cy="577.7" r="1.45" fill="#7c7c7e"/><circle cx="608.0" cy="577.7" r="1.45" fill="#7c7c7e"/><circle cx="613.1" cy="577.7" r="1.45" fill="#7c7c7e"/><circle cx="618.2" cy="577.7" r="1.45" fill="#7c7c7e"/><circle cx="623.3" cy="577.7" r="1.45" fill="#7c7c7e"/><circle cx="628.4" cy="577.7" r="1.45" fill="#7c7c7e"/><circle cx="633.5" cy="577.7" r="1.45" fill="#7c7c7e"/><circle cx="638.6" cy="577.7" r="1.45" fill="#7c7c7e"/><circle cx="643.7" cy="577.7" r="1.45" fill="#7c7c7e"/><circle cx="648.8" cy="577.7" r="1.45" fill="#7c7c7e"/><circle cx="653.9" cy="577.7" r="1.45" fill="#7c7c7e"/><circle cx="546.2" cy="582.3" r="1.45" fill="#7c7c7e"/><circle cx="551.3" cy="582.3" r="1.45" fill="#7c7c7e"/><circle cx="556.4" cy="582.3" r="1.45" fill="#7c7c7e"/><circle cx="561.5" cy="582.3" r="1.45" fill="#7c7c7e"/><circle cx="566.6" cy="582.3" r="1.45" fill="#7c7c7e"/><circle cx="571.7" cy="582.3" r="1.45" fill="#7c7c7e"/><circle cx="576.8" cy="582.3" r="1.45" fill="#7c7c7e"/><circle cx="581.9" cy="582.3" r="1.45" fill="#7c7c7e"/><circle cx="587.0" cy="582.3" r="1.45" fill="#7c7c7e"/><circle cx="592.1" cy="582.3" r="1.45" fill="#7c7c7e"/><circle cx="597.2" cy="582.3" r="1.45" fill="#7c7c7e"/><circle cx="602.3" cy="582.3" r="1.45" fill="#7c7c7e"/><circle cx="607.4" cy="582.3" r="1.45" fill="#7c7c7e"/><circle cx="612.5" cy="582.3" r="1.45" fill="#7c7c7e"/><circle cx="617.6" cy="582.3" r="1.45" fill="#7c7c7e"/><circle cx="622.7" cy="582.3" r="1.45" fill="#7c7c7e"/><circle cx="627.8" cy="582.3" r="1.45" fill="#7c7c7e"/><circle cx="632.9" cy="582.3" r="1.45" fill="#7c7c7e"/><circle cx="638.0" cy="582.3" r="1.45" fill="#7c7c7e"/><circle cx="643.1" cy="582.3" r="1.45" fill="#7c7c7e"/><circle cx="648.2" cy="582.3" r="1.45" fill="#7c7c7e"/><circle cx="653.3" cy="582.3" r="1.45" fill="#7c7c7e"/><circle cx="658.4" cy="582.3" r="1.45" fill="#7c7c7e"/><circle cx="540.5" cy="587.0" r="1.45" fill="#7c7c7e"/><circle cx="545.6" cy="587.0" r="1.45" fill="#7c7c7e"/><circle cx="550.7" cy="587.0" r="1.45" fill="#7c7c7e"/><circle cx="555.8" cy="587.0" r="1.45" fill="#7c7c7e"/><circle cx="560.9" cy="587.0" r="1.45" fill="#7c7c7e"/><circle cx="566.0" cy="587.0" r="1.45" fill="#7c7c7e"/><circle cx="571.1" cy="587.0" r="1.45" fill="#7c7c7e"/><circle cx="576.2" cy="587.0" r="1.45" fill="#7c7c7e"/><circle cx="581.3" cy="587.0" r="1.45" fill="#7c7c7e"/><circle cx="586.4" cy="587.0" r="1.45" fill="#7c7c7e"/><circle cx="591.5" cy="587.0" r="1.45" fill="#7c7c7e"/><circle cx="596.6" cy="587.0" r="1.45" fill="#7c7c7e"/><circle cx="601.7" cy="587.0" r="1.45" fill="#7c7c7e"/><circle cx="606.8" cy="587.0" r="1.45" fill="#7c7c7e"/><circle cx="611.9" cy="587.0" r="1.45" fill="#7c7c7e"/><circle cx="617.0" cy="587.0" r="1.45" fill="#7c7c7e"/><circle cx="622.1" cy="587.0" r="1.45" fill="#7c7c7e"/><circle cx="627.2" cy="587.0" r="1.45" fill="#7c7c7e"/><circle cx="632.3" cy="587.0" r="1.45" fill="#7c7c7e"/><circle cx="637.4" cy="587.0" r="1.45" fill="#7c7c7e"/><circle cx="642.5" cy="587.0" r="1.45" fill="#7c7c7e"/><circle cx="647.6" cy="587.0" r="1.45" fill="#7c7c7e"/><circle cx="652.7" cy="587.0" r="1.45" fill="#7c7c7e"/><circle cx="657.8" cy="587.0" r="1.45" fill="#7c7c7e"/><circle cx="662.9" cy="587.0" r="1.45" fill="#7c7c7e"/><circle cx="539.9" cy="591.6" r="1.45" fill="#7c7c7e"/><circle cx="545.0" cy="591.6" r="1.45" fill="#7c7c7e"/><circle cx="550.1" cy="591.6" r="1.45" fill="#7c7c7e"/><circle cx="555.2" cy="591.6" r="1.45" fill="#7c7c7e"/><circle cx="560.3" cy="591.6" r="1.45" fill="#7c7c7e"/><circle cx="565.4" cy="591.6" r="1.45" fill="#7c7c7e"/><circle cx="570.5" cy="591.6" r="1.45" fill="#7c7c7e"/><circle cx="575.6" cy="591.6" r="1.45" fill="#7c7c7e"/><circle cx="580.7" cy="591.6" r="1.45" fill="#7c7c7e"/><circle cx="585.8" cy="591.6" r="1.45" fill="#7c7c7e"/><circle cx="590.9" cy="591.6" r="1.45" fill="#7c7c7e"/><circle cx="596.0" cy="591.6" r="1.45" fill="#7c7c7e"/><circle cx="601.1" cy="591.6" r="1.45" fill="#7c7c7e"/><circle cx="606.2" cy="591.6" r="1.45" fill="#7c7c7e"/><circle cx="611.3" cy="591.6" r="1.45" fill="#7c7c7e"/><circle cx="616.4" cy="591.6" r="1.45" fill="#7c7c7e"/><circle cx="621.5" cy="591.6" r="1.45" fill="#7c7c7e"/><circle cx="626.6" cy="591.6" r="1.45" fill="#7c7c7e"/><circle cx="631.7" cy="591.6" r="1.45" fill="#7c7c7e"/><circle cx="636.8" cy="591.6" r="1.45" fill="#7c7c7e"/><circle cx="641.9" cy="591.6" r="1.45" fill="#7c7c7e"/><circle cx="647.0" cy="591.6" r="1.45" fill="#7c7c7e"/><circle cx="652.1" cy="591.6" r="1.45" fill="#7c7c7e"/><circle cx="657.2" cy="591.6" r="1.45" fill="#7c7c7e"/><circle cx="662.3" cy="591.6" r="1.45" fill="#7c7c7e"/><circle cx="667.4" cy="591.6" r="1.45" fill="#7c7c7e"/><circle cx="534.2" cy="596.3" r="1.45" fill="#7c7c7e"/><circle cx="539.3" cy="596.3" r="1.45" fill="#7c7c7e"/><circle cx="544.4" cy="596.3" r="1.45" fill="#7c7c7e"/><circle cx="549.5" cy="596.3" r="1.45" fill="#7c7c7e"/><circle cx="554.6" cy="596.3" r="1.45" fill="#7c7c7e"/><circle cx="559.7" cy="596.3" r="1.45" fill="#7c7c7e"/><circle cx="564.8" cy="596.3" r="1.45" fill="#7c7c7e"/><circle cx="569.9" cy="596.3" r="1.45" fill="#7c7c7e"/><circle cx="575.0" cy="596.3" r="1.45" fill="#7c7c7e"/><circle cx="580.1" cy="596.3" r="1.45" fill="#7c7c7e"/><circle cx="585.2" cy="596.3" r="1.45" fill="#7c7c7e"/><circle cx="590.3" cy="596.3" r="1.45" fill="#7c7c7e"/><circle cx="595.4" cy="596.3" r="1.45" fill="#7c7c7e"/><circle cx="600.5" cy="596.3" r="1.45" fill="#7c7c7e"/><circle cx="605.6" cy="596.3" r="1.45" fill="#7c7c7e"/><circle cx="610.7" cy="596.3" r="1.45" fill="#7c7c7e"/><circle cx="615.8" cy="596.3" r="1.45" fill="#7c7c7e"/><circle cx="620.9" cy="596.3" r="1.45" fill="#7c7c7e"/><circle cx="626.0" cy="596.3" r="1.45" fill="#7c7c7e"/><circle cx="631.1" cy="596.3" r="1.45" fill="#7c7c7e"/><circle cx="636.2" cy="596.3" r="1.45" fill="#7c7c7e"/><circle cx="641.3" cy="596.3" r="1.45" fill="#7c7c7e"/><circle cx="646.4" cy="596.3" r="1.45" fill="#7c7c7e"/><circle cx="651.5" cy="596.3" r="1.45" fill="#7c7c7e"/><circle cx="656.6" cy="596.3" r="1.45" fill="#7c7c7e"/><circle cx="661.7" cy="596.3" r="1.45" fill="#7c7c7e"/><circle cx="666.8" cy="596.3" r="1.45" fill="#7c7c7e"/><circle cx="533.7" cy="600.9" r="1.45" fill="#7c7c7e"/><circle cx="538.8" cy="600.9" r="1.45" fill="#7c7c7e"/><circle cx="543.9" cy="600.9" r="1.45" fill="#7c7c7e"/><circle cx="549.0" cy="600.9" r="1.45" fill="#7c7c7e"/><circle cx="554.1" cy="600.9" r="1.45" fill="#7c7c7e"/><circle cx="559.2" cy="600.9" r="1.45" fill="#7c7c7e"/><circle cx="564.3" cy="600.9" r="1.45" fill="#7c7c7e"/><circle cx="569.4" cy="600.9" r="1.45" fill="#7c7c7e"/><circle cx="574.5" cy="600.9" r="1.45" fill="#7c7c7e"/><circle cx="579.6" cy="600.9" r="1.45" fill="#7c7c7e"/><circle cx="584.7" cy="600.9" r="1.45" fill="#7c7c7e"/><circle cx="589.8" cy="600.9" r="1.45" fill="#7c7c7e"/><circle cx="594.9" cy="600.9" r="1.45" fill="#7c7c7e"/><circle cx="600.0" cy="600.9" r="1.45" fill="#7c7c7e"/><circle cx="605.1" cy="600.9" r="1.45" fill="#7c7c7e"/><circle cx="610.2" cy="600.9" r="1.45" fill="#7c7c7e"/><circle cx="615.3" cy="600.9" r="1.45" fill="#7c7c7e"/><circle cx="620.4" cy="600.9" r="1.45" fill="#7c7c7e"/><circle cx="625.5" cy="600.9" r="1.45" fill="#7c7c7e"/><circle cx="630.6" cy="600.9" r="1.45" fill="#7c7c7e"/><circle cx="635.7" cy="600.9" r="1.45" fill="#7c7c7e"/><circle cx="640.8" cy="600.9" r="1.45" fill="#7c7c7e"/><circle cx="645.9" cy="600.9" r="1.45" fill="#7c7c7e"/><circle cx="651.0" cy="600.9" r="1.45" fill="#7c7c7e"/><circle cx="656.1" cy="600.9" r="1.45" fill="#7c7c7e"/><circle cx="661.2" cy="600.9" r="1.45" fill="#7c7c7e"/><circle cx="666.3" cy="600.9" r="1.45" fill="#7c7c7e"/><circle cx="671.4" cy="600.9" r="1.45" fill="#7c7c7e"/><circle cx="528.0" cy="605.6" r="1.45" fill="#7c7c7e"/><circle cx="533.1" cy="605.6" r="1.45" fill="#7c7c7e"/><circle cx="538.2" cy="605.6" r="1.45" fill="#7c7c7e"/><circle cx="543.3" cy="605.6" r="1.45" fill="#7c7c7e"/><circle cx="548.4" cy="605.6" r="1.45" fill="#7c7c7e"/><circle cx="553.5" cy="605.6" r="1.45" fill="#7c7c7e"/><circle cx="558.6" cy="605.6" r="1.45" fill="#7c7c7e"/><circle cx="563.7" cy="605.6" r="1.45" fill="#7c7c7e"/><circle cx="568.8" cy="605.6" r="1.45" fill="#7c7c7e"/><circle cx="573.9" cy="605.6" r="1.45" fill="#7c7c7e"/><circle cx="579.0" cy="605.6" r="1.45" fill="#7c7c7e"/><circle cx="584.1" cy="605.6" r="1.45" fill="#7c7c7e"/><circle cx="589.2" cy="605.6" r="1.45" fill="#7c7c7e"/><circle cx="594.3" cy="605.6" r="1.45" fill="#7c7c7e"/><circle cx="599.4" cy="605.6" r="1.45" fill="#7c7c7e"/><circle cx="604.5" cy="605.6" r="1.45" fill="#7c7c7e"/><circle cx="609.6" cy="605.6" r="1.45" fill="#7c7c7e"/><circle cx="614.7" cy="605.6" r="1.45" fill="#7c7c7e"/><circle cx="619.8" cy="605.6" r="1.45" fill="#7c7c7e"/><circle cx="624.9" cy="605.6" r="1.45" fill="#7c7c7e"/><circle cx="630.0" cy="605.6" r="1.45" fill="#7c7c7e"/><circle cx="635.1" cy="605.6" r="1.45" fill="#7c7c7e"/><circle cx="640.2" cy="605.6" r="1.45" fill="#7c7c7e"/><circle cx="645.3" cy="605.6" r="1.45" fill="#7c7c7e"/><circle cx="650.4" cy="605.6" r="1.45" fill="#7c7c7e"/><circle cx="655.5" cy="605.6" r="1.45" fill="#7c7c7e"/><circle cx="660.6" cy="605.6" r="1.45" fill="#7c7c7e"/><circle cx="665.7" cy="605.6" r="1.45" fill="#7c7c7e"/><circle cx="670.8" cy="605.6" r="1.45" fill="#7c7c7e"/><circle cx="675.9" cy="605.6" r="1.45" fill="#7c7c7e"/></svg>
<div class="a" style="left:405px;top:695px;width:393px;height:18px;border-radius:50%;background:#1c1c1c;box-shadow:inset 0 -2.5px 0 #c4c6c8"></div>
<svg class="a" style="left:0;top:0" width="1200" height="1200"><path d="M446,627 L448.0,615.0 L455.7,613.8 L464.4,611.1 L473.0,604.8 L479.4,608.1 L486.6,605.9 L491.2,602.3 L496.4,601.2 L503.3,596.4 L508.4,596.5 L516.9,596.8 L521.7,595.7 L526.4,593.4 L531.1,588.9 L539.4,589.2 L544.5,592.9 L552.9,588.4 L561.7,589.3 L569.1,587.2 L577.8,589.8 L586.6,591.2 L592.1,588.6 L596.9,587.8 L601.2,589.0 L608.3,588.0 L615.7,590.6 L621.2,593.8 L627.6,591.7 L634.0,594.5 L638.3,596.4 L642.4,595.4 L650.6,591.9 L658.6,594.0 L665.5,592.0 L669.7,592.9 L678.5,592.6 L686.3,596.1 L695.0,592.0 L700.7,592.3 L708.6,595.0 L716.4,603.6 L724.7,604.6 L733.4,610.4 L739.1,616.8 L747.7,620.7 L754,627 Z" fill="#9c8c5c"/><ellipse cx="613.5" cy="601.6" rx="2.0" ry="1.2" transform="rotate(14 613.5 601.6)" fill="#c2a268"/><ellipse cx="494.7" cy="618.1" rx="3.4" ry="2.0" transform="rotate(9 494.7 618.1)" fill="#c2a268"/><ellipse cx="746.0" cy="623.1" rx="2.2" ry="1.3" transform="rotate(107 746.0 623.1)" fill="#c2a268"/><ellipse cx="697.9" cy="607.4" rx="2.2" ry="1.3" transform="rotate(165 697.9 607.4)" fill="#d2bf88"/><ellipse cx="459.8" cy="618.0" rx="3.1" ry="1.8" transform="rotate(132 459.8 618.0)" fill="#d2bf88"/><ellipse cx="734.9" cy="621.1" rx="3.0" ry="1.8" transform="rotate(78 734.9 621.1)" fill="#d2bf88"/><ellipse cx="494.8" cy="622.1" rx="1.9" ry="1.2" transform="rotate(180 494.8 622.1)" fill="#c27c46"/><ellipse cx="705.7" cy="625.2" rx="2.3" ry="1.4" transform="rotate(131 705.7 625.2)" fill="#c27c46"/><ellipse cx="593.7" cy="599.6" rx="2.1" ry="1.3" transform="rotate(68 593.7 599.6)" fill="#c2a268"/><ellipse cx="746.5" cy="625.8" rx="2.6" ry="1.6" transform="rotate(61 746.5 625.8)" fill="#c27c46"/><ellipse cx="476.7" cy="611.2" rx="2.9" ry="1.8" transform="rotate(65 476.7 611.2)" fill="#b09858"/><ellipse cx="685.8" cy="618.6" rx="2.8" ry="1.7" transform="rotate(137 685.8 618.6)" fill="#a88e56"/><ellipse cx="559.0" cy="614.9" rx="1.9" ry="1.1" transform="rotate(139 559.0 614.9)" fill="#c27c46"/><ellipse cx="657.3" cy="603.4" rx="3.3" ry="2.0" transform="rotate(105 657.3 603.4)" fill="#a88e56"/><ellipse cx="453.5" cy="619.7" rx="1.8" ry="1.1" transform="rotate(83 453.5 619.7)" fill="#a88e56"/><ellipse cx="695.0" cy="614.1" rx="3.0" ry="1.8" transform="rotate(116 695.0 614.1)" fill="#7a7a3e"/><ellipse cx="671.3" cy="620.5" rx="2.0" ry="1.2" transform="rotate(157 671.3 620.5)" fill="#b09858"/><ellipse cx="656.5" cy="625.2" rx="3.3" ry="2.0" transform="rotate(95 656.5 625.2)" fill="#e2d6a8"/><ellipse cx="499.9" cy="621.6" rx="3.3" ry="2.0" transform="rotate(124 499.9 621.6)" fill="#c27c46"/><ellipse cx="665.9" cy="617.4" rx="1.7" ry="1.0" transform="rotate(105 665.9 617.4)" fill="#cc9058"/><ellipse cx="649.7" cy="607.3" rx="2.6" ry="1.6" transform="rotate(115 649.7 607.3)" fill="#cc9058"/><ellipse cx="666.1" cy="594.9" rx="1.6" ry="1.0" transform="rotate(117 666.1 594.9)" fill="#464a24"/><ellipse cx="515.7" cy="616.2" rx="2.6" ry="1.6" transform="rotate(85 515.7 616.2)" fill="#d2bf88"/><ellipse cx="517.9" cy="596.0" rx="1.6" ry="0.9" transform="rotate(33 517.9 596.0)" fill="#7a7a3e"/><ellipse cx="508.0" cy="598.1" rx="2.3" ry="1.4" transform="rotate(110 508.0 598.1)" fill="#464a24"/><ellipse cx="627.0" cy="600.1" rx="3.2" ry="1.9" transform="rotate(73 627.0 600.1)" fill="#d2bf88"/><ellipse cx="533.6" cy="605.1" rx="1.5" ry="0.9" transform="rotate(67 533.6 605.1)" fill="#b09858"/><ellipse cx="460.8" cy="619.8" rx="1.5" ry="0.9" transform="rotate(61 460.8 619.8)" fill="#e2d6a8"/><ellipse cx="624.3" cy="624.6" rx="3.0" ry="1.8" transform="rotate(146 624.3 624.6)" fill="#464a24"/><ellipse cx="642.7" cy="605.4" rx="1.6" ry="1.0" transform="rotate(101 642.7 605.4)" fill="#a88e56"/><ellipse cx="737.2" cy="625.6" rx="2.6" ry="1.5" transform="rotate(161 737.2 625.6)" fill="#7a7a3e"/><ellipse cx="450.3" cy="614.3" rx="2.5" ry="1.5" transform="rotate(25 450.3 614.3)" fill="#a88e56"/><ellipse cx="638.8" cy="622.4" rx="2.1" ry="1.3" transform="rotate(41 638.8 622.4)" fill="#464a24"/><ellipse cx="537.4" cy="625.0" rx="2.1" ry="1.3" transform="rotate(164 537.4 625.0)" fill="#8e9a50"/><ellipse cx="628.7" cy="600.9" rx="3.4" ry="2.0" transform="rotate(75 628.7 600.9)" fill="#c27c46"/><ellipse cx="545.7" cy="625.4" rx="2.3" ry="1.4" transform="rotate(86 545.7 625.4)" fill="#7a7a3e"/><ellipse cx="486.6" cy="617.3" rx="2.2" ry="1.3" transform="rotate(141 486.6 617.3)" fill="#7a7a3e"/><ellipse cx="698.0" cy="592.3" rx="2.4" ry="1.5" transform="rotate(168 698.0 592.3)" fill="#7a7a3e"/><ellipse cx="684.6" cy="601.2" rx="1.9" ry="1.1" transform="rotate(178 684.6 601.2)" fill="#c2a268"/><ellipse cx="538.0" cy="612.0" rx="2.3" ry="1.4" transform="rotate(109 538.0 612.0)" fill="#a88e56"/><ellipse cx="673.0" cy="597.6" rx="2.9" ry="1.7" transform="rotate(96 673.0 597.6)" fill="#7a7a3e"/><ellipse cx="550.8" cy="600.0" rx="2.4" ry="1.4" transform="rotate(65 550.8 600.0)" fill="#c27c46"/><ellipse cx="673.5" cy="612.8" rx="1.4" ry="0.8" transform="rotate(82 673.5 612.8)" fill="#c2a268"/><ellipse cx="725.0" cy="623.8" rx="2.4" ry="1.5" transform="rotate(140 725.0 623.8)" fill="#d2bf88"/><ellipse cx="578.3" cy="609.9" rx="2.8" ry="1.7" transform="rotate(87 578.3 609.9)" fill="#a88e56"/><ellipse cx="723.5" cy="613.5" rx="2.1" ry="1.3" transform="rotate(35 723.5 613.5)" fill="#b09858"/><ellipse cx="538.9" cy="619.9" rx="1.4" ry="0.9" transform="rotate(125 538.9 619.9)" fill="#b09858"/><ellipse cx="579.8" cy="598.9" rx="2.9" ry="1.8" transform="rotate(26 579.8 598.9)" fill="#5e6a30"/><ellipse cx="593.5" cy="609.2" rx="2.3" ry="1.4" transform="rotate(28 593.5 609.2)" fill="#7a7a3e"/><ellipse cx="625.8" cy="619.6" rx="1.4" ry="0.9" transform="rotate(148 625.8 619.6)" fill="#c2a268"/><ellipse cx="687.5" cy="614.8" rx="1.4" ry="0.8" transform="rotate(176 687.5 614.8)" fill="#2e2a1c"/><ellipse cx="749.5" cy="624.8" rx="1.4" ry="0.8" transform="rotate(39 749.5 624.8)" fill="#b09858"/><ellipse cx="643.7" cy="624.4" rx="2.8" ry="1.7" transform="rotate(53 643.7 624.4)" fill="#c2a268"/><ellipse cx="725.4" cy="609.7" rx="2.6" ry="1.5" transform="rotate(29 725.4 609.7)" fill="#464a24"/><ellipse cx="636.7" cy="594.3" rx="1.5" ry="0.9" transform="rotate(13 636.7 594.3)" fill="#464a24"/><ellipse cx="467.3" cy="618.5" rx="2.9" ry="1.7" transform="rotate(24 467.3 618.5)" fill="#b09858"/><ellipse cx="579.5" cy="600.0" rx="2.6" ry="1.5" transform="rotate(169 579.5 600.0)" fill="#c27c46"/><ellipse cx="562.3" cy="590.4" rx="2.8" ry="1.7" transform="rotate(114 562.3 590.4)" fill="#c2a268"/><ellipse cx="601.8" cy="622.7" rx="2.5" ry="1.5" transform="rotate(47 601.8 622.7)" fill="#a88e56"/><ellipse cx="615.5" cy="599.7" rx="2.9" ry="1.7" transform="rotate(24 615.5 599.7)" fill="#e2d6a8"/><ellipse cx="520.3" cy="605.7" rx="2.8" ry="1.7" transform="rotate(128 520.3 605.7)" fill="#c2a268"/><ellipse cx="646.5" cy="596.3" rx="2.7" ry="1.6" transform="rotate(22 646.5 596.3)" fill="#d2bf88"/><ellipse cx="628.2" cy="600.2" rx="3.1" ry="1.9" transform="rotate(58 628.2 600.2)" fill="#c27c46"/><ellipse cx="688.9" cy="593.7" rx="2.8" ry="1.7" transform="rotate(27 688.9 593.7)" fill="#d2bf88"/><ellipse cx="735.6" cy="621.9" rx="1.8" ry="1.1" transform="rotate(175 735.6 621.9)" fill="#d2bf88"/><ellipse cx="649.5" cy="620.2" rx="1.6" ry="1.0" transform="rotate(64 649.5 620.2)" fill="#a88e56"/><ellipse cx="520.5" cy="604.4" rx="2.6" ry="1.6" transform="rotate(69 520.5 604.4)" fill="#7a7a3e"/><ellipse cx="490.9" cy="621.9" rx="2.7" ry="1.6" transform="rotate(78 490.9 621.9)" fill="#b09858"/><ellipse cx="705.5" cy="610.8" rx="2.5" ry="1.5" transform="rotate(133 705.5 610.8)" fill="#e2d6a8"/><ellipse cx="568.7" cy="591.7" rx="1.4" ry="0.8" transform="rotate(7 568.7 591.7)" fill="#c2a268"/><ellipse cx="716.8" cy="613.3" rx="2.9" ry="1.7" transform="rotate(85 716.8 613.3)" fill="#d2bf88"/><ellipse cx="716.9" cy="616.7" rx="2.2" ry="1.3" transform="rotate(18 716.9 616.7)" fill="#c27c46"/><ellipse cx="496.4" cy="604.3" rx="2.1" ry="1.3" transform="rotate(158 496.4 604.3)" fill="#464a24"/><ellipse cx="495.6" cy="606.9" rx="1.9" ry="1.1" transform="rotate(52 495.6 606.9)" fill="#c2a268"/><ellipse cx="520.6" cy="609.2" rx="1.4" ry="0.8" transform="rotate(66 520.6 609.2)" fill="#5e6a30"/><ellipse cx="731.4" cy="621.2" rx="2.7" ry="1.6" transform="rotate(170 731.4 621.2)" fill="#c27c46"/><ellipse cx="485.4" cy="618.5" rx="1.9" ry="1.1" transform="rotate(131 485.4 618.5)" fill="#a88e56"/><ellipse cx="499.0" cy="604.9" rx="1.4" ry="0.8" transform="rotate(14 499.0 604.9)" fill="#c2a268"/><ellipse cx="570.3" cy="625.0" rx="2.1" ry="1.2" transform="rotate(84 570.3 625.0)" fill="#7a7a3e"/><ellipse cx="534.9" cy="616.5" rx="2.8" ry="1.7" transform="rotate(43 534.9 616.5)" fill="#c2a268"/><ellipse cx="651.7" cy="624.1" rx="2.7" ry="1.6" transform="rotate(176 651.7 624.1)" fill="#464a24"/><ellipse cx="451.9" cy="613.3" rx="2.9" ry="1.8" transform="rotate(8 451.9 613.3)" fill="#464a24"/><ellipse cx="614.5" cy="625.6" rx="2.4" ry="1.4" transform="rotate(17 614.5 625.6)" fill="#7a7a3e"/><ellipse cx="471.4" cy="624.1" rx="2.3" ry="1.4" transform="rotate(10 471.4 624.1)" fill="#5e6a30"/><ellipse cx="523.0" cy="594.6" rx="2.1" ry="1.3" transform="rotate(46 523.0 594.6)" fill="#d2bf88"/><ellipse cx="572.2" cy="599.6" rx="1.4" ry="0.8" transform="rotate(175 572.2 599.6)" fill="#d2bf88"/><ellipse cx="503.8" cy="612.3" rx="2.1" ry="1.3" transform="rotate(15 503.8 612.3)" fill="#e2d6a8"/><ellipse cx="544.2" cy="593.5" rx="2.4" ry="1.5" transform="rotate(108 544.2 593.5)" fill="#5e6a30"/><ellipse cx="707.0" cy="602.0" rx="1.3" ry="0.8" transform="rotate(88 707.0 602.0)" fill="#e2d6a8"/><ellipse cx="621.4" cy="604.4" rx="2.6" ry="1.6" transform="rotate(164 621.4 604.4)" fill="#2e2a1c"/><ellipse cx="542.3" cy="606.0" rx="3.0" ry="1.8" transform="rotate(21 542.3 606.0)" fill="#c2a268"/><ellipse cx="543.5" cy="592.8" rx="2.9" ry="1.8" transform="rotate(56 543.5 592.8)" fill="#b09858"/><ellipse cx="488.9" cy="604.2" rx="1.8" ry="1.1" transform="rotate(77 488.9 604.2)" fill="#d2bf88"/><ellipse cx="623.1" cy="600.0" rx="1.4" ry="0.9" transform="rotate(9 623.1 600.0)" fill="#2e2a1c"/><ellipse cx="510.0" cy="604.9" rx="2.1" ry="1.3" transform="rotate(76 510.0 604.9)" fill="#d2bf88"/><ellipse cx="544.2" cy="617.0" rx="2.5" ry="1.5" transform="rotate(118 544.2 617.0)" fill="#5e6a30"/><ellipse cx="677.9" cy="612.2" rx="2.2" ry="1.3" transform="rotate(118 677.9 612.2)" fill="#b09858"/><ellipse cx="736.4" cy="622.7" rx="2.8" ry="1.7" transform="rotate(146 736.4 622.7)" fill="#7a7a3e"/><ellipse cx="564.7" cy="593.1" rx="1.4" ry="0.9" transform="rotate(47 564.7 593.1)" fill="#c2a268"/><ellipse cx="652.8" cy="603.0" rx="1.4" ry="0.9" transform="rotate(100 652.8 603.0)" fill="#cc9058"/><ellipse cx="458.2" cy="611.5" rx="1.6" ry="0.9" transform="rotate(155 458.2 611.5)" fill="#7a7a3e"/><ellipse cx="734.8" cy="620.9" rx="1.8" ry="1.1" transform="rotate(65 734.8 620.9)" fill="#464a24"/><ellipse cx="549.1" cy="589.6" rx="2.5" ry="1.5" transform="rotate(131 549.1 589.6)" fill="#b09858"/><ellipse cx="478.6" cy="616.2" rx="1.7" ry="1.0" transform="rotate(80 478.6 616.2)" fill="#2e2a1c"/><ellipse cx="731.6" cy="622.9" rx="1.5" ry="0.9" transform="rotate(165 731.6 622.9)" fill="#7a7a3e"/><ellipse cx="588.3" cy="604.7" rx="2.2" ry="1.3" transform="rotate(169 588.3 604.7)" fill="#cc9058"/><ellipse cx="609.8" cy="624.9" rx="2.6" ry="1.5" transform="rotate(147 609.8 624.9)" fill="#d2bf88"/><ellipse cx="575.8" cy="590.0" rx="3.4" ry="2.0" transform="rotate(104 575.8 590.0)" fill="#d2bf88"/><ellipse cx="594.6" cy="621.6" rx="2.1" ry="1.3" transform="rotate(50 594.6 621.6)" fill="#c2a268"/><ellipse cx="510.3" cy="613.1" rx="2.0" ry="1.2" transform="rotate(43 510.3 613.1)" fill="#cc9058"/><ellipse cx="555.5" cy="597.9" rx="3.4" ry="2.0" transform="rotate(153 555.5 597.9)" fill="#b09858"/><ellipse cx="635.4" cy="606.1" rx="1.6" ry="1.0" transform="rotate(88 635.4 606.1)" fill="#b09858"/><ellipse cx="461.3" cy="612.6" rx="1.5" ry="0.9" transform="rotate(162 461.3 612.6)" fill="#2e2a1c"/><ellipse cx="509.8" cy="620.0" rx="2.0" ry="1.2" transform="rotate(155 509.8 620.0)" fill="#a88e56"/><ellipse cx="636.9" cy="619.4" rx="2.1" ry="1.3" transform="rotate(92 636.9 619.4)" fill="#d2bf88"/><ellipse cx="626.0" cy="598.2" rx="2.1" ry="1.3" transform="rotate(5 626.0 598.2)" fill="#7a7a3e"/><ellipse cx="543.6" cy="603.5" rx="2.3" ry="1.4" transform="rotate(72 543.6 603.5)" fill="#2e2a1c"/><ellipse cx="744.7" cy="624.7" rx="3.2" ry="1.9" transform="rotate(121 744.7 624.7)" fill="#2e2a1c"/><ellipse cx="611.0" cy="618.8" rx="2.1" ry="1.2" transform="rotate(122 611.0 618.8)" fill="#a88e56"/><ellipse cx="606.7" cy="600.1" rx="1.5" ry="0.9" transform="rotate(64 606.7 600.1)" fill="#d2bf88"/><ellipse cx="624.1" cy="617.7" rx="2.8" ry="1.7" transform="rotate(167 624.1 617.7)" fill="#7a7a3e"/><ellipse cx="532.4" cy="616.0" rx="1.5" ry="0.9" transform="rotate(121 532.4 616.0)" fill="#cc9058"/><ellipse cx="737.1" cy="624.8" rx="2.7" ry="1.6" transform="rotate(133 737.1 624.8)" fill="#b09858"/><ellipse cx="633.3" cy="599.5" rx="2.4" ry="1.4" transform="rotate(43 633.3 599.5)" fill="#5e6a30"/><ellipse cx="742.4" cy="622.1" rx="2.1" ry="1.3" transform="rotate(70 742.4 622.1)" fill="#d2bf88"/><ellipse cx="503.4" cy="616.4" rx="3.2" ry="1.9" transform="rotate(110 503.4 616.4)" fill="#5e6a30"/><ellipse cx="566.0" cy="592.2" rx="2.7" ry="1.6" transform="rotate(129 566.0 592.2)" fill="#e2d6a8"/><ellipse cx="562.2" cy="621.7" rx="1.7" ry="1.0" transform="rotate(48 562.2 621.7)" fill="#7a7a3e"/><ellipse cx="636.7" cy="622.6" rx="1.7" ry="1.0" transform="rotate(138 636.7 622.6)" fill="#a88e56"/><ellipse cx="517.4" cy="596.4" rx="2.5" ry="1.5" transform="rotate(158 517.4 596.4)" fill="#b09858"/><ellipse cx="668.4" cy="607.3" rx="2.2" ry="1.3" transform="rotate(163 668.4 607.3)" fill="#e2d6a8"/><ellipse cx="540.7" cy="600.0" rx="2.6" ry="1.5" transform="rotate(34 540.7 600.0)" fill="#8e9a50"/><ellipse cx="459.1" cy="612.3" rx="2.5" ry="1.5" transform="rotate(33 459.1 612.3)" fill="#a88e56"/><ellipse cx="507.1" cy="614.4" rx="2.7" ry="1.6" transform="rotate(131 507.1 614.4)" fill="#2e2a1c"/><ellipse cx="468.4" cy="616.7" rx="3.1" ry="1.8" transform="rotate(57 468.4 616.7)" fill="#8e9a50"/><ellipse cx="705.1" cy="614.7" rx="3.2" ry="1.9" transform="rotate(125 705.1 614.7)" fill="#c2a268"/><ellipse cx="702.2" cy="608.4" rx="1.5" ry="0.9" transform="rotate(28 702.2 608.4)" fill="#c2a268"/><ellipse cx="477.8" cy="608.5" rx="2.6" ry="1.6" transform="rotate(136 477.8 608.5)" fill="#d2bf88"/><ellipse cx="670.9" cy="620.1" rx="3.0" ry="1.8" transform="rotate(166 670.9 620.1)" fill="#2e2a1c"/><ellipse cx="737.1" cy="621.6" rx="3.3" ry="2.0" transform="rotate(19 737.1 621.6)" fill="#d2bf88"/><ellipse cx="469.3" cy="611.5" rx="2.1" ry="1.3" transform="rotate(122 469.3 611.5)" fill="#c27c46"/><ellipse cx="672.9" cy="596.5" rx="2.1" ry="1.3" transform="rotate(68 672.9 596.5)" fill="#e2d6a8"/><ellipse cx="485.3" cy="616.9" rx="2.1" ry="1.3" transform="rotate(89 485.3 616.9)" fill="#2e2a1c"/><ellipse cx="738.8" cy="625.4" rx="1.5" ry="0.9" transform="rotate(130 738.8 625.4)" fill="#cc9058"/><ellipse cx="538.8" cy="594.3" rx="2.3" ry="1.4" transform="rotate(133 538.8 594.3)" fill="#7a7a3e"/><ellipse cx="725.5" cy="614.2" rx="1.9" ry="1.1" transform="rotate(125 725.5 614.2)" fill="#c27c46"/><ellipse cx="686.7" cy="612.0" rx="1.9" ry="1.2" transform="rotate(153 686.7 612.0)" fill="#7a7a3e"/><ellipse cx="605.8" cy="591.6" rx="2.2" ry="1.3" transform="rotate(120 605.8 591.6)" fill="#c2a268"/><ellipse cx="472.0" cy="612.1" rx="1.5" ry="0.9" transform="rotate(177 472.0 612.1)" fill="#c27c46"/><ellipse cx="612.4" cy="604.2" rx="3.3" ry="2.0" transform="rotate(64 612.4 604.2)" fill="#d2bf88"/><ellipse cx="693.2" cy="592.5" rx="2.9" ry="1.7" transform="rotate(3 693.2 592.5)" fill="#7a7a3e"/><ellipse cx="525.3" cy="607.7" rx="2.1" ry="1.3" transform="rotate(10 525.3 607.7)" fill="#e2d6a8"/><ellipse cx="515.6" cy="625.2" rx="2.2" ry="1.3" transform="rotate(15 515.6 625.2)" fill="#c27c46"/><ellipse cx="533.7" cy="624.4" rx="2.7" ry="1.6" transform="rotate(10 533.7 624.4)" fill="#c27c46"/><ellipse cx="567.8" cy="617.6" rx="2.2" ry="1.3" transform="rotate(162 567.8 617.6)" fill="#a88e56"/><ellipse cx="643.5" cy="614.1" rx="1.4" ry="0.8" transform="rotate(139 643.5 614.1)" fill="#d2bf88"/><ellipse cx="574.0" cy="621.2" rx="3.0" ry="1.8" transform="rotate(68 574.0 621.2)" fill="#5e6a30"/><ellipse cx="749.7" cy="625.0" rx="3.2" ry="1.9" transform="rotate(141 749.7 625.0)" fill="#c2a268"/><ellipse cx="576.6" cy="624.9" rx="3.4" ry="2.0" transform="rotate(76 576.6 624.9)" fill="#c2a268"/><ellipse cx="531.3" cy="607.4" rx="1.9" ry="1.1" transform="rotate(22 531.3 607.4)" fill="#a88e56"/><ellipse cx="500.8" cy="611.4" rx="1.5" ry="0.9" transform="rotate(162 500.8 611.4)" fill="#464a24"/><ellipse cx="715.6" cy="605.7" rx="1.3" ry="0.8" transform="rotate(173 715.6 605.7)" fill="#b09858"/><ellipse cx="629.7" cy="596.8" rx="1.8" ry="1.1" transform="rotate(169 629.7 596.8)" fill="#5e6a30"/><ellipse cx="459.3" cy="613.3" rx="2.2" ry="1.3" transform="rotate(136 459.3 613.3)" fill="#7a7a3e"/><ellipse cx="561.9" cy="617.5" rx="1.6" ry="1.0" transform="rotate(175 561.9 617.5)" fill="#e2d6a8"/><ellipse cx="660.6" cy="596.9" rx="1.5" ry="0.9" transform="rotate(67 660.6 596.9)" fill="#a88e56"/><ellipse cx="560.6" cy="606.3" rx="2.5" ry="1.5" transform="rotate(43 560.6 606.3)" fill="#8e9a50"/><ellipse cx="620.6" cy="600.4" rx="2.4" ry="1.5" transform="rotate(24 620.6 600.4)" fill="#2e2a1c"/><ellipse cx="594.3" cy="615.0" rx="1.3" ry="0.8" transform="rotate(75 594.3 615.0)" fill="#cc9058"/><ellipse cx="601.2" cy="611.7" rx="3.0" ry="1.8" transform="rotate(90 601.2 611.7)" fill="#d2bf88"/><ellipse cx="461.5" cy="616.1" rx="2.0" ry="1.2" transform="rotate(54 461.5 616.1)" fill="#d2bf88"/><ellipse cx="585.0" cy="613.0" rx="3.2" ry="1.9" transform="rotate(95 585.0 613.0)" fill="#464a24"/><ellipse cx="664.0" cy="624.0" rx="3.3" ry="2.0" transform="rotate(54 664.0 624.0)" fill="#8e9a50"/><ellipse cx="500.0" cy="624.2" rx="1.5" ry="0.9" transform="rotate(133 500.0 624.2)" fill="#464a24"/><ellipse cx="608.6" cy="604.0" rx="3.2" ry="1.9" transform="rotate(99 608.6 604.0)" fill="#7a7a3e"/><ellipse cx="698.9" cy="596.5" rx="2.0" ry="1.2" transform="rotate(102 698.9 596.5)" fill="#c27c46"/><ellipse cx="512.2" cy="609.6" rx="1.4" ry="0.9" transform="rotate(62 512.2 609.6)" fill="#d2bf88"/><ellipse cx="493.1" cy="625.2" rx="1.9" ry="1.1" transform="rotate(141 493.1 625.2)" fill="#7a7a3e"/><ellipse cx="672.3" cy="602.2" rx="3.0" ry="1.8" transform="rotate(70 672.3 602.2)" fill="#a88e56"/><ellipse cx="638.6" cy="601.1" rx="1.9" ry="1.1" transform="rotate(79 638.6 601.1)" fill="#b09858"/><ellipse cx="719.2" cy="607.1" rx="1.6" ry="1.0" transform="rotate(133 719.2 607.1)" fill="#d2bf88"/><ellipse cx="618.4" cy="591.4" rx="1.4" ry="0.8" transform="rotate(89 618.4 591.4)" fill="#b09858"/><ellipse cx="711.4" cy="599.2" rx="2.5" ry="1.5" transform="rotate(130 711.4 599.2)" fill="#d2bf88"/><ellipse cx="633.4" cy="613.0" rx="1.8" ry="1.1" transform="rotate(20 633.4 613.0)" fill="#5e6a30"/><ellipse cx="469.2" cy="620.2" rx="1.5" ry="0.9" transform="rotate(83 469.2 620.2)" fill="#d2bf88"/><ellipse cx="644.7" cy="622.5" rx="2.8" ry="1.7" transform="rotate(116 644.7 622.5)" fill="#d2bf88"/><ellipse cx="703.1" cy="596.9" rx="2.9" ry="1.7" transform="rotate(54 703.1 596.9)" fill="#c2a268"/><ellipse cx="450.4" cy="622.8" rx="2.4" ry="1.4" transform="rotate(84 450.4 622.8)" fill="#5e6a30"/><ellipse cx="496.6" cy="605.8" rx="1.9" ry="1.1" transform="rotate(37 496.6 605.8)" fill="#5e6a30"/><ellipse cx="476.5" cy="612.9" rx="1.5" ry="0.9" transform="rotate(112 476.5 612.9)" fill="#464a24"/><ellipse cx="645.2" cy="599.2" rx="1.6" ry="1.0" transform="rotate(124 645.2 599.2)" fill="#c27c46"/><ellipse cx="584.1" cy="609.9" rx="3.2" ry="1.9" transform="rotate(48 584.1 609.9)" fill="#c2a268"/><ellipse cx="598.1" cy="608.9" rx="3.2" ry="1.9" transform="rotate(119 598.1 608.9)" fill="#e2d6a8"/><ellipse cx="575.9" cy="617.8" rx="3.1" ry="1.8" transform="rotate(19 575.9 617.8)" fill="#7a7a3e"/><ellipse cx="527.8" cy="603.9" rx="3.2" ry="1.9" transform="rotate(113 527.8 603.9)" fill="#c2a268"/><ellipse cx="642.2" cy="624.6" rx="1.5" ry="0.9" transform="rotate(61 642.2 624.6)" fill="#cc9058"/><ellipse cx="480.9" cy="618.1" rx="3.1" ry="1.8" transform="rotate(9 480.9 618.1)" fill="#e2d6a8"/><ellipse cx="741.6" cy="620.5" rx="2.6" ry="1.6" transform="rotate(47 741.6 620.5)" fill="#2e2a1c"/><ellipse cx="572.5" cy="600.5" rx="1.5" ry="0.9" transform="rotate(129 572.5 600.5)" fill="#d2bf88"/><ellipse cx="573.2" cy="621.0" rx="1.4" ry="0.9" transform="rotate(32 573.2 621.0)" fill="#7a7a3e"/><ellipse cx="733.0" cy="623.0" rx="3.2" ry="1.9" transform="rotate(19 733.0 623.0)" fill="#c27c46"/><ellipse cx="574.8" cy="596.6" rx="1.4" ry="0.8" transform="rotate(52 574.8 596.6)" fill="#e2d6a8"/><ellipse cx="482.4" cy="615.3" rx="3.3" ry="2.0" transform="rotate(84 482.4 615.3)" fill="#5e6a30"/><ellipse cx="480.8" cy="621.0" rx="1.5" ry="0.9" transform="rotate(15 480.8 621.0)" fill="#e2d6a8"/><ellipse cx="746.2" cy="623.2" rx="2.2" ry="1.3" transform="rotate(99 746.2 623.2)" fill="#7a7a3e"/><ellipse cx="741.9" cy="621.0" rx="1.7" ry="1.0" transform="rotate(165 741.9 621.0)" fill="#c27c46"/><ellipse cx="564.5" cy="612.1" rx="3.2" ry="1.9" transform="rotate(146 564.5 612.1)" fill="#7a7a3e"/><ellipse cx="608.7" cy="595.0" rx="1.4" ry="0.8" transform="rotate(84 608.7 595.0)" fill="#5e6a30"/><ellipse cx="583.0" cy="622.9" rx="2.5" ry="1.5" transform="rotate(51 583.0 622.9)" fill="#c27c46"/><ellipse cx="673.2" cy="602.0" rx="2.3" ry="1.4" transform="rotate(109 673.2 602.0)" fill="#cc9058"/><ellipse cx="490.3" cy="606.8" rx="2.8" ry="1.7" transform="rotate(18 490.3 606.8)" fill="#2e2a1c"/><ellipse cx="749.3" cy="622.3" rx="1.7" ry="1.0" transform="rotate(80 749.3 622.3)" fill="#d2bf88"/><ellipse cx="635.9" cy="621.3" rx="1.6" ry="1.0" transform="rotate(19 635.9 621.3)" fill="#2e2a1c"/><ellipse cx="624.1" cy="600.3" rx="2.0" ry="1.2" transform="rotate(130 624.1 600.3)" fill="#d2bf88"/><ellipse cx="486.7" cy="620.6" rx="2.0" ry="1.2" transform="rotate(115 486.7 620.6)" fill="#a88e56"/><ellipse cx="596.6" cy="621.3" rx="3.2" ry="1.9" transform="rotate(60 596.6 621.3)" fill="#7a7a3e"/><ellipse cx="713.1" cy="602.7" rx="2.2" ry="1.3" transform="rotate(176 713.1 602.7)" fill="#464a24"/><ellipse cx="488.5" cy="617.9" rx="2.9" ry="1.7" transform="rotate(0 488.5 617.9)" fill="#2e2a1c"/><ellipse cx="733.1" cy="616.2" rx="3.1" ry="1.9" transform="rotate(76 733.1 616.2)" fill="#a88e56"/><ellipse cx="701.3" cy="614.9" rx="2.0" ry="1.2" transform="rotate(91 701.3 614.9)" fill="#2e2a1c"/><ellipse cx="663.5" cy="613.7" rx="3.0" ry="1.8" transform="rotate(89 663.5 613.7)" fill="#c2a268"/><ellipse cx="450.4" cy="623.3" rx="2.9" ry="1.8" transform="rotate(8 450.4 623.3)" fill="#b09858"/><ellipse cx="610.6" cy="607.3" rx="1.6" ry="0.9" transform="rotate(175 610.6 607.3)" fill="#c2a268"/><ellipse cx="705.8" cy="602.1" rx="3.0" ry="1.8" transform="rotate(69 705.8 602.1)" fill="#a88e56"/><ellipse cx="643.4" cy="600.8" rx="1.9" ry="1.1" transform="rotate(118 643.4 600.8)" fill="#d2bf88"/><ellipse cx="624.4" cy="617.2" rx="2.4" ry="1.4" transform="rotate(55 624.4 617.2)" fill="#464a24"/><ellipse cx="670.6" cy="605.8" rx="2.6" ry="1.5" transform="rotate(80 670.6 605.8)" fill="#cc9058"/><ellipse cx="655.8" cy="595.9" rx="1.8" ry="1.1" transform="rotate(27 655.8 595.9)" fill="#b09858"/><ellipse cx="467.1" cy="608.6" rx="2.9" ry="1.7" transform="rotate(82 467.1 608.6)" fill="#d2bf88"/><ellipse cx="581.5" cy="618.5" rx="2.3" ry="1.4" transform="rotate(4 581.5 618.5)" fill="#e2d6a8"/><ellipse cx="688.6" cy="618.3" rx="2.6" ry="1.6" transform="rotate(111 688.6 618.3)" fill="#b09858"/><ellipse cx="664.8" cy="621.2" rx="2.6" ry="1.6" transform="rotate(159 664.8 621.2)" fill="#d2bf88"/><ellipse cx="746.9" cy="621.4" rx="1.4" ry="0.9" transform="rotate(18 746.9 621.4)" fill="#7a7a3e"/><ellipse cx="560.8" cy="591.7" rx="1.8" ry="1.1" transform="rotate(77 560.8 591.7)" fill="#d2bf88"/><ellipse cx="540.0" cy="616.2" rx="2.1" ry="1.3" transform="rotate(172 540.0 616.2)" fill="#c2a268"/><ellipse cx="718.3" cy="618.7" rx="1.8" ry="1.1" transform="rotate(81 718.3 618.7)" fill="#464a24"/><ellipse cx="572.6" cy="589.0" rx="2.3" ry="1.4" transform="rotate(125 572.6 589.0)" fill="#cc9058"/><ellipse cx="708.1" cy="616.5" rx="2.9" ry="1.7" transform="rotate(165 708.1 616.5)" fill="#b09858"/><ellipse cx="687.9" cy="606.6" rx="2.7" ry="1.6" transform="rotate(159 687.9 606.6)" fill="#a88e56"/><ellipse cx="664.1" cy="608.2" rx="1.7" ry="1.0" transform="rotate(45 664.1 608.2)" fill="#7a7a3e"/><ellipse cx="654.6" cy="618.6" rx="1.7" ry="1.0" transform="rotate(151 654.6 618.6)" fill="#e2d6a8"/><ellipse cx="559.7" cy="591.9" rx="2.6" ry="1.5" transform="rotate(26 559.7 591.9)" fill="#7a7a3e"/><ellipse cx="536.4" cy="590.6" rx="1.6" ry="1.0" transform="rotate(19 536.4 590.6)" fill="#464a24"/><ellipse cx="451.8" cy="619.9" rx="3.3" ry="2.0" transform="rotate(59 451.8 619.9)" fill="#b09858"/><ellipse cx="727.3" cy="609.5" rx="1.6" ry="1.0" transform="rotate(11 727.3 609.5)" fill="#d2bf88"/><ellipse cx="630.5" cy="617.8" rx="2.3" ry="1.4" transform="rotate(81 630.5 617.8)" fill="#b09858"/><ellipse cx="725.6" cy="618.6" rx="2.4" ry="1.5" transform="rotate(77 725.6 618.6)" fill="#c2a268"/><ellipse cx="582.1" cy="619.3" rx="1.8" ry="1.1" transform="rotate(147 582.1 619.3)" fill="#7a7a3e"/><ellipse cx="471.3" cy="617.3" rx="1.8" ry="1.1" transform="rotate(107 471.3 617.3)" fill="#a88e56"/><ellipse cx="478.3" cy="620.4" rx="2.2" ry="1.3" transform="rotate(154 478.3 620.4)" fill="#7a7a3e"/><ellipse cx="683.6" cy="603.3" rx="2.7" ry="1.6" transform="rotate(93 683.6 603.3)" fill="#d2bf88"/><ellipse cx="474.8" cy="618.9" rx="3.2" ry="1.9" transform="rotate(7 474.8 618.9)" fill="#a88e56"/><ellipse cx="603.9" cy="606.7" rx="2.2" ry="1.3" transform="rotate(50 603.9 606.7)" fill="#c2a268"/><ellipse cx="584.9" cy="590.9" rx="2.7" ry="1.6" transform="rotate(52 584.9 590.9)" fill="#c2a268"/><ellipse cx="477.2" cy="611.7" rx="3.3" ry="2.0" transform="rotate(17 477.2 611.7)" fill="#7a7a3e"/><ellipse cx="553.7" cy="624.0" rx="1.5" ry="0.9" transform="rotate(38 553.7 624.0)" fill="#7a7a3e"/><ellipse cx="654.5" cy="608.7" rx="1.5" ry="0.9" transform="rotate(59 654.5 608.7)" fill="#b09858"/><ellipse cx="655.8" cy="608.5" rx="3.1" ry="1.9" transform="rotate(41 655.8 608.5)" fill="#d2bf88"/><ellipse cx="535.7" cy="599.8" rx="3.0" ry="1.8" transform="rotate(62 535.7 599.8)" fill="#c27c46"/><ellipse cx="602.1" cy="620.4" rx="2.5" ry="1.5" transform="rotate(118 602.1 620.4)" fill="#c27c46"/><ellipse cx="634.5" cy="606.2" rx="2.2" ry="1.3" transform="rotate(79 634.5 606.2)" fill="#d2bf88"/><ellipse cx="713.7" cy="607.6" rx="2.1" ry="1.2" transform="rotate(106 713.7 607.6)" fill="#a88e56"/><ellipse cx="502.6" cy="610.8" rx="2.8" ry="1.7" transform="rotate(20 502.6 610.8)" fill="#d2bf88"/><ellipse cx="676.6" cy="622.9" rx="1.4" ry="0.9" transform="rotate(113 676.6 622.9)" fill="#d2bf88"/><ellipse cx="535.4" cy="613.8" rx="1.4" ry="0.8" transform="rotate(29 535.4 613.8)" fill="#c27c46"/><ellipse cx="549.7" cy="614.7" rx="2.4" ry="1.4" transform="rotate(152 549.7 614.7)" fill="#b09858"/><ellipse cx="635.8" cy="620.9" rx="1.7" ry="1.0" transform="rotate(58 635.8 620.9)" fill="#c27c46"/><ellipse cx="637.5" cy="596.6" rx="3.2" ry="1.9" transform="rotate(141 637.5 596.6)" fill="#464a24"/><ellipse cx="732.8" cy="625.1" rx="2.1" ry="1.3" transform="rotate(179 732.8 625.1)" fill="#b09858"/><ellipse cx="489.1" cy="620.0" rx="2.8" ry="1.7" transform="rotate(50 489.1 620.0)" fill="#c27c46"/><ellipse cx="502.0" cy="609.9" rx="3.3" ry="2.0" transform="rotate(46 502.0 609.9)" fill="#464a24"/><ellipse cx="635.8" cy="607.3" rx="2.6" ry="1.6" transform="rotate(52 635.8 607.3)" fill="#c27c46"/><ellipse cx="460.6" cy="623.1" rx="2.7" ry="1.6" transform="rotate(90 460.6 623.1)" fill="#c2a268"/><ellipse cx="624.3" cy="609.0" rx="3.2" ry="1.9" transform="rotate(55 624.3 609.0)" fill="#cc9058"/><ellipse cx="551.6" cy="611.6" rx="1.6" ry="1.0" transform="rotate(8 551.6 611.6)" fill="#5e6a30"/><ellipse cx="599.9" cy="599.3" rx="2.4" ry="1.4" transform="rotate(40 599.9 599.3)" fill="#d2bf88"/><ellipse cx="746.7" cy="624.8" rx="1.8" ry="1.1" transform="rotate(6 746.7 624.8)" fill="#c27c46"/><ellipse cx="486.6" cy="607.4" rx="3.4" ry="2.0" transform="rotate(45 486.6 607.4)" fill="#7a7a3e"/><ellipse cx="469.6" cy="609.6" rx="3.4" ry="2.0" transform="rotate(166 469.6 609.6)" fill="#cc9058"/><ellipse cx="700.7" cy="618.5" rx="1.8" ry="1.1" transform="rotate(49 700.7 618.5)" fill="#c2a268"/><ellipse cx="469.6" cy="610.8" rx="2.8" ry="1.7" transform="rotate(2 469.6 610.8)" fill="#c27c46"/><ellipse cx="541.4" cy="620.6" rx="3.1" ry="1.9" transform="rotate(132 541.4 620.6)" fill="#2e2a1c"/><ellipse cx="723.5" cy="617.0" rx="2.1" ry="1.3" transform="rotate(51 723.5 617.0)" fill="#e2d6a8"/><ellipse cx="460.9" cy="614.2" rx="2.3" ry="1.4" transform="rotate(15 460.9 614.2)" fill="#d2bf88"/><ellipse cx="524.2" cy="604.9" rx="3.3" ry="2.0" transform="rotate(151 524.2 604.9)" fill="#c27c46"/><ellipse cx="673.3" cy="612.9" rx="2.0" ry="1.2" transform="rotate(57 673.3 612.9)" fill="#464a24"/><ellipse cx="640.3" cy="621.2" rx="3.0" ry="1.8" transform="rotate(27 640.3 621.2)" fill="#7a7a3e"/><ellipse cx="452.7" cy="620.3" rx="1.8" ry="1.1" transform="rotate(54 452.7 620.3)" fill="#d2bf88"/><ellipse cx="518.5" cy="600.7" rx="2.7" ry="1.6" transform="rotate(51 518.5 600.7)" fill="#a88e56"/><ellipse cx="669.2" cy="600.5" rx="3.2" ry="1.9" transform="rotate(107 669.2 600.5)" fill="#d2bf88"/><ellipse cx="661.5" cy="617.4" rx="2.3" ry="1.4" transform="rotate(113 661.5 617.4)" fill="#b09858"/><ellipse cx="657.2" cy="596.5" rx="1.7" ry="1.0" transform="rotate(98 657.2 596.5)" fill="#c27c46"/><ellipse cx="478.6" cy="620.6" rx="2.0" ry="1.2" transform="rotate(94 478.6 620.6)" fill="#c27c46"/><ellipse cx="701.6" cy="602.3" rx="2.5" ry="1.5" transform="rotate(118 701.6 602.3)" fill="#a88e56"/><ellipse cx="543.7" cy="599.8" rx="2.3" ry="1.4" transform="rotate(116 543.7 599.8)" fill="#a88e56"/><ellipse cx="490.1" cy="612.7" rx="2.5" ry="1.5" transform="rotate(18 490.1 612.7)" fill="#c2a268"/><ellipse cx="728.7" cy="609.3" rx="2.3" ry="1.4" transform="rotate(6 728.7 609.3)" fill="#7a7a3e"/><ellipse cx="531.0" cy="596.6" rx="2.1" ry="1.3" transform="rotate(14 531.0 596.6)" fill="#5e6a30"/><ellipse cx="555.5" cy="614.6" rx="2.6" ry="1.6" transform="rotate(41 555.5 614.6)" fill="#d2bf88"/><ellipse cx="534.3" cy="622.3" rx="2.2" ry="1.3" transform="rotate(86 534.3 622.3)" fill="#c2a268"/><ellipse cx="595.5" cy="594.4" rx="2.7" ry="1.6" transform="rotate(86 595.5 594.4)" fill="#2e2a1c"/><ellipse cx="611.2" cy="617.8" rx="3.3" ry="2.0" transform="rotate(8 611.2 617.8)" fill="#a88e56"/><ellipse cx="601.5" cy="613.6" rx="2.0" ry="1.2" transform="rotate(66 601.5 613.6)" fill="#2e2a1c"/><ellipse cx="634.9" cy="613.2" rx="2.7" ry="1.6" transform="rotate(127 634.9 613.2)" fill="#5e6a30"/><ellipse cx="662.8" cy="616.5" rx="1.8" ry="1.1" transform="rotate(112 662.8 616.5)" fill="#a88e56"/><ellipse cx="468.3" cy="621.6" rx="1.8" ry="1.1" transform="rotate(94 468.3 621.6)" fill="#c27c46"/><ellipse cx="666.7" cy="618.5" rx="2.3" ry="1.4" transform="rotate(80 666.7 618.5)" fill="#5e6a30"/><ellipse cx="619.9" cy="625.7" rx="2.0" ry="1.2" transform="rotate(172 619.9 625.7)" fill="#2e2a1c"/><ellipse cx="475.3" cy="621.6" rx="2.7" ry="1.6" transform="rotate(142 475.3 621.6)" fill="#e2d6a8"/><ellipse cx="708.0" cy="600.4" rx="2.3" ry="1.4" transform="rotate(126 708.0 600.4)" fill="#a88e56"/><ellipse cx="737.5" cy="623.7" rx="3.0" ry="1.8" transform="rotate(77 737.5 623.7)" fill="#d2bf88"/><ellipse cx="724.0" cy="624.9" rx="2.9" ry="1.7" transform="rotate(139 724.0 624.9)" fill="#7a7a3e"/><ellipse cx="609.5" cy="614.1" rx="2.6" ry="1.6" transform="rotate(129 609.5 614.1)" fill="#b09858"/><ellipse cx="741.1" cy="621.3" rx="2.3" ry="1.4" transform="rotate(101 741.1 621.3)" fill="#a88e56"/><ellipse cx="464.7" cy="625.3" rx="2.0" ry="1.2" transform="rotate(8 464.7 625.3)" fill="#c27c46"/><ellipse cx="507.1" cy="624.0" rx="1.9" ry="1.1" transform="rotate(146 507.1 624.0)" fill="#7a7a3e"/><ellipse cx="522.4" cy="615.1" rx="2.5" ry="1.5" transform="rotate(86 522.4 615.1)" fill="#5e6a30"/><ellipse cx="548.6" cy="598.7" rx="2.1" ry="1.2" transform="rotate(22 548.6 598.7)" fill="#d2bf88"/><ellipse cx="494.6" cy="608.7" rx="2.9" ry="1.7" transform="rotate(64 494.6 608.7)" fill="#5e6a30"/><ellipse cx="524.9" cy="602.2" rx="2.6" ry="1.6" transform="rotate(21 524.9 602.2)" fill="#c27c46"/><ellipse cx="607.1" cy="599.6" rx="1.6" ry="1.0" transform="rotate(19 607.1 599.6)" fill="#b09858"/><ellipse cx="581.8" cy="617.1" rx="2.4" ry="1.5" transform="rotate(57 581.8 617.1)" fill="#b09858"/><ellipse cx="733.9" cy="612.8" rx="3.2" ry="1.9" transform="rotate(1 733.9 612.8)" fill="#464a24"/><ellipse cx="527.8" cy="625.6" rx="2.8" ry="1.7" transform="rotate(146 527.8 625.6)" fill="#cc9058"/><ellipse cx="451.9" cy="616.6" rx="2.3" ry="1.4" transform="rotate(163 451.9 616.6)" fill="#5e6a30"/><ellipse cx="494.8" cy="625.7" rx="2.5" ry="1.5" transform="rotate(15 494.8 625.7)" fill="#7a7a3e"/><ellipse cx="578.0" cy="607.8" rx="2.3" ry="1.4" transform="rotate(171 578.0 607.8)" fill="#7a7a3e"/><ellipse cx="592.6" cy="600.1" rx="2.9" ry="1.8" transform="rotate(76 592.6 600.1)" fill="#c2a268"/><ellipse cx="481.2" cy="609.6" rx="3.4" ry="2.0" transform="rotate(94 481.2 609.6)" fill="#a88e56"/><ellipse cx="652.0" cy="615.4" rx="2.4" ry="1.4" transform="rotate(27 652.0 615.4)" fill="#464a24"/><ellipse cx="458.8" cy="612.4" rx="2.2" ry="1.3" transform="rotate(121 458.8 612.4)" fill="#d2bf88"/><ellipse cx="551.2" cy="597.6" rx="2.0" ry="1.2" transform="rotate(38 551.2 597.6)" fill="#c27c46"/><ellipse cx="705.7" cy="609.7" rx="1.4" ry="0.9" transform="rotate(160 705.7 609.7)" fill="#d2bf88"/><ellipse cx="623.4" cy="601.6" rx="2.8" ry="1.7" transform="rotate(160 623.4 601.6)" fill="#d2bf88"/><ellipse cx="730.9" cy="620.7" rx="1.4" ry="0.8" transform="rotate(151 730.9 620.7)" fill="#464a24"/><ellipse cx="628.0" cy="599.1" rx="1.8" ry="1.1" transform="rotate(94 628.0 599.1)" fill="#d2bf88"/><ellipse cx="504.4" cy="610.5" rx="3.2" ry="1.9" transform="rotate(89 504.4 610.5)" fill="#5e6a30"/><ellipse cx="685.2" cy="597.4" rx="3.3" ry="2.0" transform="rotate(87 685.2 597.4)" fill="#b09858"/><ellipse cx="715.8" cy="608.3" rx="3.4" ry="2.0" transform="rotate(166 715.8 608.3)" fill="#7a7a3e"/><ellipse cx="701.1" cy="623.8" rx="2.8" ry="1.7" transform="rotate(50 701.1 623.8)" fill="#d2bf88"/><ellipse cx="646.7" cy="623.0" rx="2.7" ry="1.6" transform="rotate(63 646.7 623.0)" fill="#d2bf88"/><ellipse cx="553.5" cy="595.1" rx="1.8" ry="1.1" transform="rotate(67 553.5 595.1)" fill="#c27c46"/><ellipse cx="530.1" cy="605.4" rx="3.3" ry="2.0" transform="rotate(135 530.1 605.4)" fill="#a88e56"/><ellipse cx="729.8" cy="610.1" rx="3.1" ry="1.9" transform="rotate(35 729.8 610.1)" fill="#d2bf88"/><ellipse cx="671.8" cy="618.0" rx="2.6" ry="1.6" transform="rotate(130 671.8 618.0)" fill="#c27c46"/><ellipse cx="578.4" cy="595.4" rx="1.8" ry="1.1" transform="rotate(7 578.4 595.4)" fill="#d2bf88"/><ellipse cx="735.6" cy="625.4" rx="2.0" ry="1.2" transform="rotate(50 735.6 625.4)" fill="#464a24"/><ellipse cx="684.4" cy="609.3" rx="1.7" ry="1.0" transform="rotate(167 684.4 609.3)" fill="#5e6a30"/><ellipse cx="463.9" cy="616.9" rx="1.8" ry="1.1" transform="rotate(65 463.9 616.9)" fill="#a88e56"/><ellipse cx="539.4" cy="600.9" rx="2.6" ry="1.5" transform="rotate(88 539.4 600.9)" fill="#c27c46"/><ellipse cx="654.2" cy="609.1" rx="3.3" ry="2.0" transform="rotate(143 654.2 609.1)" fill="#464a24"/><ellipse cx="729.2" cy="619.7" rx="2.5" ry="1.5" transform="rotate(128 729.2 619.7)" fill="#b09858"/><ellipse cx="508.0" cy="609.1" rx="1.6" ry="1.0" transform="rotate(124 508.0 609.1)" fill="#d2bf88"/><ellipse cx="548.6" cy="598.5" rx="1.4" ry="0.8" transform="rotate(121 548.6 598.5)" fill="#d2bf88"/><ellipse cx="557.4" cy="604.9" rx="2.7" ry="1.6" transform="rotate(126 557.4 604.9)" fill="#5e6a30"/><ellipse cx="515.8" cy="625.7" rx="1.7" ry="1.0" transform="rotate(116 515.8 625.7)" fill="#e2d6a8"/><ellipse cx="536.2" cy="622.0" rx="2.6" ry="1.5" transform="rotate(25 536.2 622.0)" fill="#2e2a1c"/><ellipse cx="699.7" cy="601.5" rx="2.6" ry="1.6" transform="rotate(58 699.7 601.5)" fill="#cc9058"/><ellipse cx="529.6" cy="602.6" rx="3.4" ry="2.0" transform="rotate(85 529.6 602.6)" fill="#a88e56"/><ellipse cx="618.6" cy="614.0" rx="1.9" ry="1.1" transform="rotate(20 618.6 614.0)" fill="#d2bf88"/><ellipse cx="624.6" cy="612.2" rx="3.4" ry="2.0" transform="rotate(154 624.6 612.2)" fill="#a88e56"/><ellipse cx="746.1" cy="622.9" rx="2.2" ry="1.3" transform="rotate(67 746.1 622.9)" fill="#c27c46"/><ellipse cx="678.0" cy="612.2" rx="1.6" ry="0.9" transform="rotate(95 678.0 612.2)" fill="#8e9a50"/><ellipse cx="674.6" cy="611.4" rx="2.5" ry="1.5" transform="rotate(21 674.6 611.4)" fill="#e2d6a8"/><ellipse cx="489.2" cy="619.6" rx="2.0" ry="1.2" transform="rotate(147 489.2 619.6)" fill="#d2bf88"/><ellipse cx="674.4" cy="618.4" rx="2.1" ry="1.3" transform="rotate(137 674.4 618.4)" fill="#d2bf88"/><ellipse cx="514.7" cy="615.8" rx="2.8" ry="1.7" transform="rotate(0 514.7 615.8)" fill="#7a7a3e"/><ellipse cx="627.1" cy="618.9" rx="2.5" ry="1.5" transform="rotate(41 627.1 618.9)" fill="#8e9a50"/><ellipse cx="669.3" cy="607.9" rx="2.5" ry="1.5" transform="rotate(41 669.3 607.9)" fill="#7a7a3e"/><ellipse cx="614.5" cy="612.1" rx="3.2" ry="1.9" transform="rotate(90 614.5 612.1)" fill="#a88e56"/><ellipse cx="645.3" cy="613.9" rx="2.2" ry="1.3" transform="rotate(123 645.3 613.9)" fill="#c2a268"/><ellipse cx="566.1" cy="589.5" rx="1.7" ry="1.0" transform="rotate(124 566.1 589.5)" fill="#7a7a3e"/><ellipse cx="646.8" cy="609.5" rx="3.0" ry="1.8" transform="rotate(63 646.8 609.5)" fill="#7a7a3e"/><ellipse cx="675.4" cy="615.6" rx="2.2" ry="1.3" transform="rotate(5 675.4 615.6)" fill="#5e6a30"/><ellipse cx="610.9" cy="620.9" rx="3.1" ry="1.9" transform="rotate(145 610.9 620.9)" fill="#c2a268"/><ellipse cx="609.9" cy="623.7" rx="2.0" ry="1.2" transform="rotate(116 609.9 623.7)" fill="#a88e56"/><ellipse cx="747.2" cy="622.3" rx="2.1" ry="1.3" transform="rotate(123 747.2 622.3)" fill="#d2bf88"/><ellipse cx="471.1" cy="623.2" rx="1.6" ry="1.0" transform="rotate(171 471.1 623.2)" fill="#c2a268"/><ellipse cx="599.5" cy="617.0" rx="2.0" ry="1.2" transform="rotate(66 599.5 617.0)" fill="#c2a268"/><ellipse cx="744.8" cy="620.4" rx="3.2" ry="1.9" transform="rotate(122 744.8 620.4)" fill="#b09858"/><ellipse cx="529.7" cy="616.6" rx="3.2" ry="1.9" transform="rotate(40 529.7 616.6)" fill="#a88e56"/><ellipse cx="632.9" cy="624.5" rx="2.5" ry="1.5" transform="rotate(36 632.9 624.5)" fill="#c2a268"/><ellipse cx="639.1" cy="594.6" rx="1.3" ry="0.8" transform="rotate(46 639.1 594.6)" fill="#464a24"/><ellipse cx="598.1" cy="591.8" rx="2.5" ry="1.5" transform="rotate(57 598.1 591.8)" fill="#a88e56"/><ellipse cx="624.5" cy="609.8" rx="3.0" ry="1.8" transform="rotate(115 624.5 609.8)" fill="#e2d6a8"/><ellipse cx="619.1" cy="619.8" rx="1.5" ry="0.9" transform="rotate(156 619.1 619.8)" fill="#d2bf88"/><ellipse cx="700.2" cy="591.4" rx="3.2" ry="1.9" transform="rotate(154 700.2 591.4)" fill="#a88e56"/><ellipse cx="660.3" cy="606.0" rx="1.5" ry="0.9" transform="rotate(128 660.3 606.0)" fill="#cc9058"/><ellipse cx="591.1" cy="598.7" rx="2.1" ry="1.2" transform="rotate(83 591.1 598.7)" fill="#5e6a30"/><ellipse cx="513.0" cy="625.6" rx="3.4" ry="2.0" transform="rotate(35 513.0 625.6)" fill="#c2a268"/><ellipse cx="668.9" cy="606.3" rx="2.3" ry="1.4" transform="rotate(49 668.9 606.3)" fill="#2e2a1c"/><ellipse cx="628.3" cy="599.0" rx="1.8" ry="1.1" transform="rotate(77 628.3 599.0)" fill="#e2d6a8"/><ellipse cx="718.4" cy="605.8" rx="3.2" ry="1.9" transform="rotate(62 718.4 605.8)" fill="#c2a268"/><ellipse cx="481.9" cy="611.1" rx="3.4" ry="2.0" transform="rotate(150 481.9 611.1)" fill="#7a7a3e"/><ellipse cx="742.9" cy="623.5" rx="1.7" ry="1.0" transform="rotate(30 742.9 623.5)" fill="#464a24"/><ellipse cx="524.9" cy="603.7" rx="1.6" ry="1.0" transform="rotate(94 524.9 603.7)" fill="#a88e56"/><ellipse cx="537.3" cy="599.3" rx="1.6" ry="1.0" transform="rotate(79 537.3 599.3)" fill="#d2bf88"/><ellipse cx="472.5" cy="616.8" rx="1.8" ry="1.1" transform="rotate(48 472.5 616.8)" fill="#cc9058"/><ellipse cx="706.8" cy="624.3" rx="3.3" ry="2.0" transform="rotate(167 706.8 624.3)" fill="#c2a268"/><ellipse cx="591.5" cy="621.7" rx="2.3" ry="1.4" transform="rotate(47 591.5 621.7)" fill="#e2d6a8"/><ellipse cx="677.2" cy="605.5" rx="3.2" ry="1.9" transform="rotate(77 677.2 605.5)" fill="#2e2a1c"/><ellipse cx="459.3" cy="614.6" rx="2.2" ry="1.3" transform="rotate(105 459.3 614.6)" fill="#464a24"/><ellipse cx="451.6" cy="618.8" rx="3.2" ry="1.9" transform="rotate(124 451.6 618.8)" fill="#8e9a50"/><ellipse cx="656.0" cy="613.3" rx="3.4" ry="2.0" transform="rotate(83 656.0 613.3)" fill="#b09858"/><ellipse cx="598.7" cy="623.8" rx="2.5" ry="1.5" transform="rotate(55 598.7 623.8)" fill="#a88e56"/><ellipse cx="649.3" cy="609.5" rx="3.3" ry="2.0" transform="rotate(179 649.3 609.5)" fill="#8e9a50"/><ellipse cx="735.2" cy="613.6" rx="1.5" ry="0.9" transform="rotate(149 735.2 613.6)" fill="#7a7a3e"/><ellipse cx="617.5" cy="599.9" rx="1.5" ry="0.9" transform="rotate(23 617.5 599.9)" fill="#c2a268"/><ellipse cx="493.1" cy="619.7" rx="1.7" ry="1.0" transform="rotate(112 493.1 619.7)" fill="#c2a268"/><ellipse cx="489.2" cy="622.0" rx="2.7" ry="1.6" transform="rotate(131 489.2 622.0)" fill="#b09858"/><ellipse cx="669.2" cy="602.5" rx="2.2" ry="1.3" transform="rotate(71 669.2 602.5)" fill="#464a24"/><ellipse cx="723.7" cy="614.6" rx="3.0" ry="1.8" transform="rotate(15 723.7 614.6)" fill="#a88e56"/><ellipse cx="513.2" cy="613.2" rx="3.0" ry="1.8" transform="rotate(45 513.2 613.2)" fill="#c2a268"/><ellipse cx="563.1" cy="605.6" rx="2.2" ry="1.3" transform="rotate(109 563.1 605.6)" fill="#5e6a30"/><ellipse cx="533.5" cy="602.8" rx="2.4" ry="1.4" transform="rotate(71 533.5 602.8)" fill="#c2a268"/><ellipse cx="469.5" cy="619.7" rx="3.1" ry="1.9" transform="rotate(107 469.5 619.7)" fill="#5e6a30"/><ellipse cx="565.4" cy="609.3" rx="2.5" ry="1.5" transform="rotate(97 565.4 609.3)" fill="#c2a268"/><ellipse cx="599.2" cy="596.4" rx="2.2" ry="1.3" transform="rotate(115 599.2 596.4)" fill="#b09858"/><ellipse cx="548.7" cy="597.9" rx="2.6" ry="1.6" transform="rotate(54 548.7 597.9)" fill="#e2d6a8"/><ellipse cx="591.3" cy="603.8" rx="2.6" ry="1.6" transform="rotate(67 591.3 603.8)" fill="#b09858"/><ellipse cx="611.4" cy="610.4" rx="2.7" ry="1.6" transform="rotate(44 611.4 610.4)" fill="#c2a268"/><ellipse cx="726.7" cy="610.4" rx="2.7" ry="1.6" transform="rotate(88 726.7 610.4)" fill="#c2a268"/><ellipse cx="585.4" cy="597.3" rx="1.7" ry="1.0" transform="rotate(7 585.4 597.3)" fill="#8e9a50"/><ellipse cx="492.8" cy="619.5" rx="2.1" ry="1.2" transform="rotate(140 492.8 619.5)" fill="#c2a268"/><ellipse cx="744.5" cy="620.3" rx="2.8" ry="1.7" transform="rotate(180 744.5 620.3)" fill="#464a24"/><ellipse cx="629.0" cy="622.4" rx="2.7" ry="1.6" transform="rotate(80 629.0 622.4)" fill="#d2bf88"/><ellipse cx="661.6" cy="598.9" rx="1.5" ry="0.9" transform="rotate(166 661.6 598.9)" fill="#8e9a50"/><ellipse cx="645.2" cy="595.5" rx="2.8" ry="1.7" transform="rotate(141 645.2 595.5)" fill="#8e9a50"/><ellipse cx="664.6" cy="608.1" rx="2.6" ry="1.6" transform="rotate(90 664.6 608.1)" fill="#5e6a30"/><ellipse cx="472.4" cy="609.6" rx="3.3" ry="2.0" transform="rotate(168 472.4 609.6)" fill="#2e2a1c"/><ellipse cx="494.4" cy="603.5" rx="2.7" ry="1.6" transform="rotate(83 494.4 603.5)" fill="#464a24"/><ellipse cx="519.8" cy="618.4" rx="2.9" ry="1.8" transform="rotate(77 519.8 618.4)" fill="#2e2a1c"/><ellipse cx="597.3" cy="603.6" rx="2.3" ry="1.4" transform="rotate(84 597.3 603.6)" fill="#7a7a3e"/><ellipse cx="738.7" cy="623.9" rx="1.6" ry="1.0" transform="rotate(148 738.7 623.9)" fill="#a88e56"/><ellipse cx="553.4" cy="621.9" rx="3.3" ry="2.0" transform="rotate(113 553.4 621.9)" fill="#d2bf88"/><ellipse cx="564.2" cy="605.8" rx="2.5" ry="1.5" transform="rotate(114 564.2 605.8)" fill="#b09858"/><ellipse cx="716.5" cy="607.5" rx="3.0" ry="1.8" transform="rotate(33 716.5 607.5)" fill="#464a24"/><ellipse cx="690.9" cy="611.9" rx="1.8" ry="1.1" transform="rotate(88 690.9 611.9)" fill="#5e6a30"/><ellipse cx="652.2" cy="625.5" rx="2.0" ry="1.2" transform="rotate(98 652.2 625.5)" fill="#e2d6a8"/><ellipse cx="535.6" cy="609.4" rx="3.3" ry="2.0" transform="rotate(48 535.6 609.4)" fill="#2e2a1c"/><ellipse cx="655.0" cy="613.7" rx="2.1" ry="1.2" transform="rotate(68 655.0 613.7)" fill="#a88e56"/><ellipse cx="684.4" cy="605.9" rx="3.0" ry="1.8" transform="rotate(31 684.4 605.9)" fill="#7a7a3e"/><ellipse cx="548.8" cy="593.8" rx="3.1" ry="1.9" transform="rotate(75 548.8 593.8)" fill="#8e9a50"/><ellipse cx="522.0" cy="622.1" rx="3.1" ry="1.9" transform="rotate(55 522.0 622.1)" fill="#c2a268"/><ellipse cx="599.2" cy="594.0" rx="1.7" ry="1.0" transform="rotate(22 599.2 594.0)" fill="#464a24"/><ellipse cx="493.3" cy="616.2" rx="1.9" ry="1.2" transform="rotate(173 493.3 616.2)" fill="#5e6a30"/><ellipse cx="651.0" cy="602.6" rx="2.9" ry="1.7" transform="rotate(157 651.0 602.6)" fill="#7a7a3e"/><ellipse cx="577.1" cy="614.3" rx="2.9" ry="1.7" transform="rotate(135 577.1 614.3)" fill="#2e2a1c"/><ellipse cx="552.7" cy="594.5" rx="2.1" ry="1.2" transform="rotate(7 552.7 594.5)" fill="#8e9a50"/><ellipse cx="534.7" cy="601.5" rx="2.2" ry="1.3" transform="rotate(31 534.7 601.5)" fill="#b09858"/><ellipse cx="481.3" cy="604.8" rx="2.0" ry="1.2" transform="rotate(81 481.3 604.8)" fill="#2e2a1c"/><ellipse cx="643.8" cy="610.1" rx="2.1" ry="1.2" transform="rotate(7 643.8 610.1)" fill="#464a24"/><ellipse cx="735.6" cy="622.6" rx="1.5" ry="0.9" transform="rotate(141 735.6 622.6)" fill="#c2a268"/><ellipse cx="602.3" cy="616.8" rx="2.9" ry="1.7" transform="rotate(148 602.3 616.8)" fill="#c2a268"/><ellipse cx="510.4" cy="600.5" rx="2.9" ry="1.7" transform="rotate(54 510.4 600.5)" fill="#b09858"/><ellipse cx="565.6" cy="615.9" rx="1.9" ry="1.2" transform="rotate(179 565.6 615.9)" fill="#464a24"/><ellipse cx="488.9" cy="624.7" rx="3.2" ry="1.9" transform="rotate(44 488.9 624.7)" fill="#8e9a50"/><ellipse cx="509.5" cy="609.5" rx="1.7" ry="1.0" transform="rotate(103 509.5 609.5)" fill="#5e6a30"/><ellipse cx="702.6" cy="609.0" rx="2.3" ry="1.4" transform="rotate(23 702.6 609.0)" fill="#8e9a50"/><ellipse cx="517.7" cy="621.5" rx="2.5" ry="1.5" transform="rotate(179 517.7 621.5)" fill="#cc9058"/><ellipse cx="681.6" cy="613.2" rx="2.9" ry="1.7" transform="rotate(39 681.6 613.2)" fill="#e2d6a8"/><ellipse cx="547.6" cy="623.2" rx="2.4" ry="1.4" transform="rotate(115 547.6 623.2)" fill="#d2bf88"/><ellipse cx="748.1" cy="624.2" rx="2.3" ry="1.4" transform="rotate(114 748.1 624.2)" fill="#c27c46"/><ellipse cx="634.5" cy="608.9" rx="3.2" ry="1.9" transform="rotate(141 634.5 608.9)" fill="#5e6a30"/><ellipse cx="667.6" cy="617.0" rx="1.7" ry="1.0" transform="rotate(48 667.6 617.0)" fill="#c27c46"/><ellipse cx="511.4" cy="624.5" rx="1.8" ry="1.1" transform="rotate(150 511.4 624.5)" fill="#b09858"/><ellipse cx="571.4" cy="588.9" rx="1.7" ry="1.0" transform="rotate(128 571.4 588.9)" fill="#a88e56"/><ellipse cx="556.5" cy="611.0" rx="1.6" ry="1.0" transform="rotate(141 556.5 611.0)" fill="#a88e56"/><ellipse cx="684.8" cy="611.6" rx="2.5" ry="1.5" transform="rotate(48 684.8 611.6)" fill="#d2bf88"/><ellipse cx="571.9" cy="590.8" rx="1.5" ry="0.9" transform="rotate(123 571.9 590.8)" fill="#8e9a50"/><ellipse cx="618.7" cy="615.2" rx="3.1" ry="1.9" transform="rotate(77 618.7 615.2)" fill="#a88e56"/><ellipse cx="567.7" cy="624.9" rx="3.3" ry="2.0" transform="rotate(147 567.7 624.9)" fill="#c2a268"/><ellipse cx="642.8" cy="604.6" rx="2.8" ry="1.7" transform="rotate(134 642.8 604.6)" fill="#7a7a3e"/><ellipse cx="617.7" cy="611.5" rx="1.4" ry="0.9" transform="rotate(172 617.7 611.5)" fill="#5e6a30"/><ellipse cx="678.3" cy="603.0" rx="2.8" ry="1.7" transform="rotate(98 678.3 603.0)" fill="#d2bf88"/><ellipse cx="553.6" cy="606.3" rx="1.9" ry="1.1" transform="rotate(78 553.6 606.3)" fill="#d2bf88"/><ellipse cx="521.2" cy="599.1" rx="2.0" ry="1.2" transform="rotate(4 521.2 599.1)" fill="#d2bf88"/><ellipse cx="742.1" cy="617.8" rx="3.2" ry="1.9" transform="rotate(22 742.1 617.8)" fill="#464a24"/><ellipse cx="578.7" cy="607.3" rx="1.4" ry="0.9" transform="rotate(1 578.7 607.3)" fill="#e2d6a8"/><ellipse cx="539.6" cy="615.6" rx="3.1" ry="1.8" transform="rotate(73 539.6 615.6)" fill="#c2a268"/><ellipse cx="721.1" cy="611.8" rx="4.3" ry="3.0" transform="rotate(146 721.1 611.8)" fill="#b8703a"/><ellipse cx="719.8" cy="610.8" rx="1.9" ry="1.3" fill="#e0b080" fill-opacity=".6"/><ellipse cx="699.4" cy="599.0" rx="5.1" ry="3.5" transform="rotate(112 699.4 599.0)" fill="#b8703a"/><ellipse cx="697.9" cy="597.7" rx="2.3" ry="1.5" fill="#e0b080" fill-opacity=".6"/><ellipse cx="522.3" cy="608.6" rx="4.8" ry="3.4" transform="rotate(111 522.3 608.6)" fill="#c9b27a"/><ellipse cx="520.9" cy="607.4" rx="2.2" ry="1.4" fill="#e0b080" fill-opacity=".6"/><ellipse cx="579.1" cy="598.8" rx="4.6" ry="3.3" transform="rotate(146 579.1 598.8)" fill="#d0925a"/><ellipse cx="577.7" cy="597.6" rx="2.1" ry="1.4" fill="#e0b080" fill-opacity=".6"/><ellipse cx="604.4" cy="598.3" rx="5.7" ry="4.0" transform="rotate(170 604.4 598.3)" fill="#d0925a"/><ellipse cx="602.7" cy="596.9" rx="2.6" ry="1.7" fill="#e0b080" fill-opacity=".6"/><ellipse cx="683.9" cy="601.1" rx="5.6" ry="3.9" transform="rotate(65 683.9 601.1)" fill="#d0925a"/><ellipse cx="682.2" cy="599.7" rx="2.5" ry="1.7" fill="#e0b080" fill-opacity=".6"/><ellipse cx="724.7" cy="615.8" rx="4.9" ry="3.4" transform="rotate(107 724.7 615.8)" fill="#c9b27a"/><ellipse cx="723.2" cy="614.6" rx="2.2" ry="1.5" fill="#e0b080" fill-opacity=".6"/><ellipse cx="714.1" cy="621.6" rx="6.0" ry="4.2" transform="rotate(96 714.1 621.6)" fill="#d0925a"/><ellipse cx="712.3" cy="620.1" rx="2.7" ry="1.8" fill="#e0b080" fill-opacity=".6"/><ellipse cx="604.5" cy="608.9" rx="4.7" ry="3.3" transform="rotate(127 604.5 608.9)" fill="#b8703a"/><ellipse cx="603.0" cy="607.8" rx="2.1" ry="1.4" fill="#e0b080" fill-opacity=".6"/><ellipse cx="644.5" cy="605.9" rx="4.1" ry="2.9" transform="rotate(83 644.5 605.9)" fill="#d0925a"/><ellipse cx="643.3" cy="604.9" rx="1.8" ry="1.2" fill="#e0b080" fill-opacity=".6"/><ellipse cx="672.8" cy="617.2" rx="6.1" ry="4.3" transform="rotate(35 672.8 617.2)" fill="#d0925a"/><ellipse cx="670.9" cy="615.7" rx="2.7" ry="1.8" fill="#e0b080" fill-opacity=".6"/><ellipse cx="510.0" cy="602.6" rx="6.0" ry="4.2" transform="rotate(58 510.0 602.6)" fill="#b8703a"/><ellipse cx="508.2" cy="601.1" rx="2.7" ry="1.8" fill="#e0b080" fill-opacity=".6"/><ellipse cx="662.9" cy="608.7" rx="5.0" ry="3.5" transform="rotate(66 662.9 608.7)" fill="#b8703a"/><ellipse cx="661.4" cy="607.4" rx="2.3" ry="1.5" fill="#e0b080" fill-opacity=".6"/><ellipse cx="639.6" cy="617.1" rx="5.4" ry="3.8" transform="rotate(95 639.6 617.1)" fill="#c67e44"/><ellipse cx="638.0" cy="615.8" rx="2.4" ry="1.6" fill="#e0b080" fill-opacity=".6"/><ellipse cx="616.9" cy="608.4" rx="6.0" ry="4.2" transform="rotate(155 616.9 608.4)" fill="#c9b27a"/><ellipse cx="615.1" cy="606.9" rx="2.7" ry="1.8" fill="#e0b080" fill-opacity=".6"/><ellipse cx="557.7" cy="592.8" rx="5.2" ry="3.6" transform="rotate(35 557.7 592.8)" fill="#c67e44"/><ellipse cx="556.1" cy="591.5" rx="2.3" ry="1.6" fill="#e0b080" fill-opacity=".6"/><ellipse cx="718.2" cy="606.6" rx="5.6" ry="3.9" transform="rotate(125 718.2 606.6)" fill="#d0925a"/><ellipse cx="716.5" cy="605.2" rx="2.5" ry="1.7" fill="#e0b080" fill-opacity=".6"/><ellipse cx="558.2" cy="613.6" rx="5.6" ry="3.9" transform="rotate(18 558.2 613.6)" fill="#b8703a"/><ellipse cx="556.5" cy="612.2" rx="2.5" ry="1.7" fill="#e0b080" fill-opacity=".6"/><ellipse cx="614.2" cy="598.3" rx="6.3" ry="4.4" transform="rotate(115 614.2 598.3)" fill="#c9b27a"/><ellipse cx="612.3" cy="596.7" rx="2.8" ry="1.9" fill="#e0b080" fill-opacity=".6"/><ellipse cx="483.3" cy="621.1" rx="6.0" ry="4.2" transform="rotate(91 483.3 621.1)" fill="#c9b27a"/><ellipse cx="481.5" cy="619.6" rx="2.7" ry="1.8" fill="#e0b080" fill-opacity=".6"/><ellipse cx="562.7" cy="616.0" rx="4.3" ry="3.0" transform="rotate(6 562.7 616.0)" fill="#b8703a"/><ellipse cx="561.4" cy="614.9" rx="1.9" ry="1.3" fill="#e0b080" fill-opacity=".6"/><ellipse cx="594.5" cy="594.2" rx="5.1" ry="3.6" transform="rotate(104 594.5 594.2)" fill="#d0925a"/><ellipse cx="593.0" cy="592.9" rx="2.3" ry="1.5" fill="#e0b080" fill-opacity=".6"/></svg>
<svg class="a" style="left:0;top:0" width="1200" height="1200">
<defs>
<linearGradient id="dishV" x1="0" y1="626" x2="0" y2="706" gradientUnits="userSpaceOnUse">
<stop offset="0" stop-color="#8e1e24"/><stop offset=".075" stop-color="#a4262c"/><stop offset=".475" stop-color="#a4262c"/><stop offset=".55" stop-color="#922a2e"/><stop offset=".61" stop-color="#7a2428"/><stop offset=".675" stop-color="#5a2022"/><stop offset=".7" stop-color="#7a5052"/><stop offset=".74" stop-color="#4a2022"/><stop offset=".8" stop-color="#644044"/><stop offset=".86" stop-color="#45262a"/><stop offset=".95" stop-color="#5a2a2c"/><stop offset="1" stop-color="#705558"/></linearGradient>
<linearGradient id="dishH" x1="436" y1="0" x2="767" y2="0" gradientUnits="userSpaceOnUse">
<stop offset="0" stop-color="#300" stop-opacity=".45"/><stop offset=".1" stop-color="#300" stop-opacity=".1"/><stop offset=".3" stop-color="#fff" stop-opacity="0"/><stop offset=".8" stop-color="#fff" stop-opacity="0"/><stop offset=".9" stop-color="#fff" stop-opacity=".14"/><stop offset=".96" stop-color="#300" stop-opacity=".1"/><stop offset="1" stop-color="#300" stop-opacity=".4"/></linearGradient>
<linearGradient id="rimV" x1="0" y1="619" x2="0" y2="632" gradientUnits="userSpaceOnUse">
<stop offset="0" stop-color="#ece2da"/><stop offset=".22" stop-color="#dccac0"/><stop offset=".36" stop-color="#b8363a"/><stop offset=".7" stop-color="#a8262c"/><stop offset="1" stop-color="#8e1e24"/></linearGradient>
</defs>
<path d="M437,628 L766,628 C768,650 764,676 754,692 C748,702 738,706 724,706 L480,706 C466,706 456,702 450,692 C440,676 435,650 437,628 Z" fill="url(#dishV)"/>
<path d="M437,628 L766,628 C768,650 764,676 754,692 C748,702 738,706 724,706 L480,706 C466,706 456,702 450,692 C440,676 435,650 437,628 Z" fill="url(#dishH)"/>
<path d="M411,620 C440,619 500,621 600,621 C700,621 760,619 791,619 C798,620 798,628 791,629 C772,631 762,634 742,634 L462,634 C442,634 432,631 413,630 C404,629 404,621 411,620 Z" fill="url(#rimV)"/>
</svg>
<div class="a" style="left:297px;top:757px;width:611px;height:4px;background:linear-gradient(90deg,#8a8a8a,#a8a8a8 30%,#aaaaaa 60%,#8a8a8a)"></div>
<div class="a" style="left:297px;top:761px;width:611px;height:10px;background:linear-gradient(90deg,#bababa,#d8d8d8 15%,#eeeeee 35%,#f0f0f0 55%,#e4e4e4 80%,#b8b8b8)"></div>
<div class="a" style="left:297px;top:771px;width:611px;height:2px;background:#2e2e30"></div>
<div class="a" style="left:297px;top:773px;width:611px;height:4px;background:#7c7c7e"></div>
<svg class="a" style="left:0;top:0" width="1200" height="1200">
<defs><linearGradient id="fwL" x1="198" y1="0" x2="297" y2="0" gradientUnits="userSpaceOnUse"><stop offset="0" stop-color="#9a9a9a"/><stop offset="1" stop-color="#b4b4b4"/></linearGradient>
<linearGradient id="fwR" x1="908" y1="0" x2="1006" y2="0" gradientUnits="userSpaceOnUse"><stop offset="0" stop-color="#b0b0b0"/><stop offset="1" stop-color="#969696"/></linearGradient></defs>
<polygon points="196,780 297,759 300,759 300,778 196,800" fill="url(#fwL)"/>
<polygon points="1008,780 907,759 904,759 904,778 1008,800" fill="url(#fwR)"/>
<polyline points="198,779.5 297,759.5" stroke="#6a6a6a" stroke-width="1.2" fill="none"/>
<polyline points="1006,779.5 908,759.5" stroke="#6a6a6a" stroke-width="1.2" fill="none"/>
</svg>
<svg class="a" style="left:0;top:0" width="1200" height="1200">
<defs>
<linearGradient id="dg" x1="0" y1="777" x2="0" y2="831" gradientUnits="userSpaceOnUse">
<stop offset="0" stop-color="#fff" stop-opacity=".04"/><stop offset="1" stop-color="#000" stop-opacity=".04"/></linearGradient>
<linearGradient id="dh" x1="171" y1="0" x2="1035" y2="0" gradientUnits="userSpaceOnUse"><stop offset="0" stop-color="#525252"/><stop offset=".07" stop-color="#5a5a5a"/><stop offset=".12" stop-color="#5e5e5e"/><stop offset=".27" stop-color="#676767"/><stop offset=".5" stop-color="#6e6e6e"/><stop offset=".61" stop-color="#6f6f6f"/><stop offset=".8" stop-color="#666"/><stop offset=".92" stop-color="#5a5a5a"/><stop offset="1" stop-color="#505050"/></linearGradient>
<radialGradient id="rv" cx=".42" cy=".3" r=".75"><stop offset="0" stop-color="#a8a8a8"/><stop offset=".35" stop-color="#747474"/><stop offset=".8" stop-color="#505050"/><stop offset="1" stop-color="#3c3c3c"/></radialGradient>
</defs>
<polygon points="139,831.5 170,808.5 1036,808.5 1065,831.5" fill="#aaaaaa"/>
<polyline points="139,831 170,808.5" stroke="#f0ecea" stroke-width="1.2" fill="none"/>
<polyline points="1036,808.5 1065,831" stroke="#f0ecea" stroke-width="1.2" fill="none"/>
<polygon points="171,796 271,777 935,777 1035,796 1035,832 171,832" fill="url(#dh)"/>
<polygon points="171,796 271,777 935,777 1035,796 1035,832 171,832" fill="url(#dg)"/>
<polyline points="171,797.5 271,778.8 935,778.8 1035,797.5" fill="none" stroke="#b4b4b4" stroke-width="2.4"/>
<rect x="171" y="818" width="864" height="3.5" fill="#000" fill-opacity=".08"/>
<rect x="171" y="823" width="864" height="2" fill="#9a9a9a" fill-opacity=".7"/>
<rect x="171" y="825" width="864" height="6" fill="#000" fill-opacity=".1"/>
<rect x="171" y="831" width="864" height="2" fill="#2a2a2a"/>
<circle cx="255" cy="808" r="8.6" fill="#4a4a4a" fill-opacity=".5"/><circle cx="255" cy="807.5" r="7.8" fill="url(#rv)"/>
<circle cx="948" cy="808" r="8.6" fill="#4a4a4a" fill-opacity=".5"/><circle cx="948" cy="807.5" r="7.8" fill="url(#rv)"/>
</svg>
<div class="a" style="left:139px;top:831px;width:926px;height:2.2px;background:#0c0c0c"></div>
<div class="a" style="left:137px;top:833px;width:929px;height:8px;border-radius:2px 3px 3px 3px;background:linear-gradient(180deg,#8a8a8a 0,#bcbcbc 20%,#c4c4c4 35%,#a6a6a6 55%,#a2a2a2 75%,#7e7e7e 100%)"></div>
<div class="a" style="left:216px;top:840px;width:91px;height:48px;border-radius:0 0 3px 3px;background:linear-gradient(90deg,#909090 0,#bcbcbc 2px,#c4c4c4 30%,#c2c2c2 70%,#bababa calc(100% - 2px),#888 100%)"></div>
<div class="a" style="left:897px;top:840px;width:91px;height:48px;border-radius:0 0 3px 3px;background:linear-gradient(90deg,#909090 0,#bcbcbc 2px,#c4c4c4 30%,#c2c2c2 70%,#bababa calc(100% - 2px),#888 100%)"></div>
<div class="a" style="left:205px;top:883px;width:794px;height:30px;border-radius:2px 3px 3px 2px;background:linear-gradient(180deg,#433f3c 0,#433f3c 5.5px,#f0f0f0 7px,#f4f4f4 10.5px,#949494 12px,#a6a6a6 12.8px,#a6a6a6 16px,#8e8e8e 17px,#a0a0a0 18px,#a0a0a0 22px,#646464 22.8px,#646464 25px,#7a7a7a 26px,#7a7a7a 29px,#666 30px)"></div>
<div class="a" style="left:205px;top:889px;width:110px;height:24px;background:rgba(255,255,255,.1)"></div>
<div class="a" style="left:889px;top:889px;width:110px;height:24px;border-radius:0 3px 3px 0;background:rgba(255,255,255,.12)"></div>
<div class="a" style="left:168px;top:287px;width:868px;height:127px;background:linear-gradient(90deg,#939393 0,#9a9a9a 3.7%,#a4a4a4 10.6%,#b2b2b2 15.2%,#c2c2c2 20.4%,#dcdcdc 26.7%,#e8e8e8 31.3%,#f4f4f4 38.2%,#f8f8f8 49.8%,#f4f4f4 61.3%,#e8e8e8 68.2%,#dcdcdc 71.7%,#c4c4c4 78.6%,#b0b0b0 84.3%,#9e9e9e 91.2%,#959595 98.2%,#939393 100%)"></div>
<svg class="a" style="left:168px;top:287px;mix-blend-mode:overlay" width="868" height="127">
<filter id="br" x="0" y="0" width="100%" height="100%" color-interpolation-filters="sRGB">
<feTurbulence type="fractalNoise" baseFrequency="0.015 0.22" numOctaves="3" seed="4"/>
<feColorMatrix type="matrix" values="1 0 0 0 0  1 0 0 0 0  1 0 0 0 0  0 0 0 0 1"/>
</filter>
<rect width="868" height="127" filter="url(#br)" opacity=".22"/>
</svg>
<div class="a" style="left:168px;top:287px;width:868px;height:1px;background:#8a8a8c"></div>
<div class="a" style="left:168px;top:288px;width:868px;height:2px;background:rgba(255,255,255,.3)"></div>
<div class="a" style="left:168px;top:287px;width:1px;height:127px;background:#929294"></div>
<div class="a" style="left:1035px;top:287px;width:1px;height:127px;background:#929294"></div>
<div class="a" style="left:168px;top:412px;width:868px;height:1px;background:#a2a2a4"></div>
<div class="a" style="left:430px;top:303px;width:345px;height:94px;border-radius:6px;background:#1e1e20"></div>
<div class="a" style="left:545px;top:316px;width:114px;height:66px;background:#232325"></div>
<div class="a" style="left:588px;top:321px;width:28px;height:2px;background:#6a6a70"></div>
<div class="a" style="left:556px;top:330.5px;width:93px;font-size:28px;line-height:30px;color:#e2e4f4;text-align:center">12:03</div>
<div class="a" style="left:556px;top:361px;width:93px;font-size:5px;line-height:6px;color:#b0b0b8;text-align:center">Thursday, March 21</div>
<svg class="a" style="left:0;top:0" width="1200" height="1200">
<rect x="505.5" y="343.5" width="22" height="13" rx="2" fill="none" stroke="#a8a8ac" stroke-width="1.2"/>
<path d="M512.5,354.5 V349 L516.5,345.5 L520.5,349 V354.5 Z" fill="none" stroke="#a8a8ac" stroke-width="1"/>
<rect x="677.5" y="343.5" width="22" height="13" rx="2" fill="none" stroke="#a8a8ac" stroke-width="1.2"/>
<path d="M685,347 L692,353 M692,347 L685,353" stroke="#b8b8bc" stroke-width="1.2"/>
</svg>
<div class="a" style="left:312px;top:313px;width:74px;height:74px;border-radius:50%;box-shadow:0 0 0 0.8px rgba(90,90,92,.55),2px 4px 6px rgba(0,0,0,.22);background:linear-gradient(160deg,#cfcfd1 0,#f2f2f4 30%,#e2e2e4 55%,#f6f6f8 80%,#dadadc 100%)"></div>
<div class="a" style="left:316.5px;top:316.5px;width:65px;height:65px;border-radius:50%;background:#4a4a4c"></div>
<div class="a" style="left:317.5px;top:317.5px;width:63px;height:63px;border-radius:50%;background:conic-gradient(from 0deg,#cacaca,#b2b2b2 12%,#c8c8c8 25%,#b2b2b2 37%,#cacaca 50%,#b2b2b2 62%,#c8c8c8 75%,#b2b2b2 87%,#cacaca)"></div>
<div class="a" style="left:317.5px;top:317.5px;width:63px;height:63px;border-radius:50%;background:radial-gradient(circle,rgba(255,255,255,.12) 0,rgba(255,255,255,0) 60%,rgba(0,0,0,.06) 100%)"></div>
<div class="a" style="left:818px;top:313px;width:74px;height:74px;border-radius:50%;box-shadow:0 0 0 0.8px rgba(90,90,92,.55),2px 4px 6px rgba(0,0,0,.22);background:linear-gradient(160deg,#cfcfd1 0,#f2f2f4 30%,#e2e2e4 55%,#f6f6f8 80%,#dadadc 100%)"></div>
<div class="a" style="left:822.5px;top:316.5px;width:65px;height:65px;border-radius:50%;background:#4a4a4c"></div>
<div class="a" style="left:823.5px;top:317.5px;width:63px;height:63px;border-radius:50%;background:conic-gradient(from 0deg,#cacaca,#b2b2b2 12%,#c8c8c8 25%,#b2b2b2 37%,#cacaca 50%,#b2b2b2 62%,#c8c8c8 75%,#b2b2b2 87%,#cacaca)"></div>
<div class="a" style="left:823.5px;top:317.5px;width:63px;height:63px;border-radius:50%;background:radial-gradient(circle,rgba(255,255,255,.12) 0,rgba(255,255,255,0) 60%,rgba(0,0,0,.06) 100%)"></div>
<!-- ===== LABELS ===== -->
<div class="ln" style="left:257.0px;top:95.1px;transform:scaleX(1.0110)">Assisted Cooking</div>
<div class="ln" style="left:256.9px;top:142.1px;transform:scaleX(1.0817)">Modes</div>
<div class="ln" style="left:880.0px;top:94.8px;transform:scaleX(0.9959)">Backlit</div>
<div class="ln" style="left:879.9px;top:142.1px;transform:scaleX(1.0283)">Knobs</div>
<div class="ln" style="left:284.8px;top:1023.6px;transform:scaleX(1.0186)">Designed To</div>
<div class="ln" style="left:284.9px;top:1071.6px;transform:scaleX(1.0121)">Be Personalized</div>
<div class="ln" style="left:832.8px;top:1023.6px;transform:scaleX(1.0669)">Microwave Air</div>
<div class="ln" style="left:832.7px;top:1071.1px;transform:scaleX(1.0909)">Fry Mode</div>

<!-- ===== RED CALLOUTS ===== -->
<div class="rl" style="left:600px;top:96px;width:4.6px;height:212px"></div>
<div class="rd" style="left:592.6px;top:298.6px;width:19px;height:19px"></div>
<div class="rl" style="left:853.6px;top:96px;width:4.4px;height:250px"></div>
<div class="rd" style="left:846.6px;top:337.5px;width:18.6px;height:18.6px"></div>
<div class="rl" style="left:602px;top:566.6px;width:212.2px;height:4.6px"></div>
<div class="rl" style="left:809.7px;top:566.6px;width:4.5px;height:537px"></div>
<div class="rd" style="left:592.9px;top:560.2px;width:18.2px;height:18.2px"></div>
<div class="rl" style="left:256.6px;top:902px;width:4.7px;height:201.6px"></div>
<div class="rd" style="left:250.2px;top:892.9px;width:18.8px;height:18.8px"></div>

</body></html>
